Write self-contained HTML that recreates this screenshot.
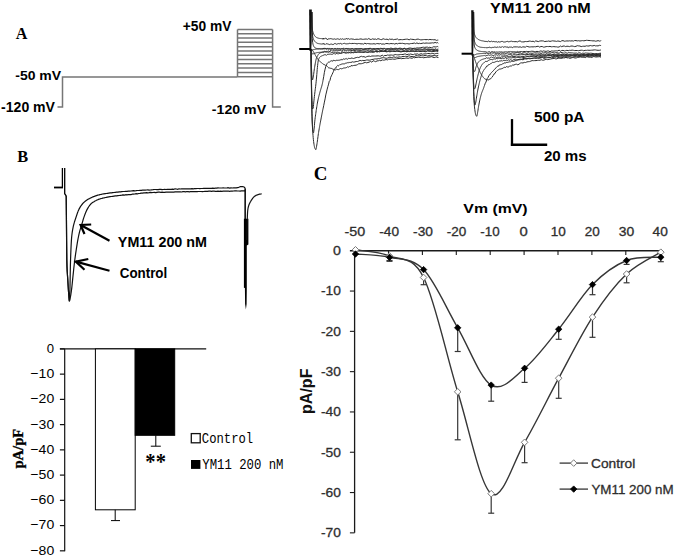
<!DOCTYPE html>
<html><head><meta charset="utf-8"><title>Figure</title><style>
html,body{margin:0;padding:0;background:#fff;width:675px;height:556px;overflow:hidden;}
svg{display:block;}
</style></head><body>
<svg width="675" height="556" viewBox="0 0 675 556">
<rect width="675" height="556" fill="#fff"/>
<text x="15.74" y="38.90" font-family='"Liberation Serif", serif' font-size="17.25" font-weight="bold" fill="#000" textLength="11.68" lengthAdjust="spacingAndGlyphs">A</text>
<polyline points="57.50,107.00 62.50,107.00 62.50,77.00 237.50,77.00" fill="none" stroke="#767676" stroke-width="1.5" />
<line x1="237.50" y1="29.50" x2="272.60" y2="29.50" stroke="#767676" stroke-width="1.5" />
<line x1="237.50" y1="33.79" x2="272.60" y2="33.79" stroke="#767676" stroke-width="1.5" />
<line x1="237.50" y1="38.08" x2="272.60" y2="38.08" stroke="#767676" stroke-width="1.5" />
<line x1="237.50" y1="42.37" x2="272.60" y2="42.37" stroke="#767676" stroke-width="1.5" />
<line x1="237.50" y1="46.66" x2="272.60" y2="46.66" stroke="#767676" stroke-width="1.5" />
<line x1="237.50" y1="50.95" x2="272.60" y2="50.95" stroke="#767676" stroke-width="1.5" />
<line x1="237.50" y1="55.25" x2="272.60" y2="55.25" stroke="#767676" stroke-width="1.5" />
<line x1="237.50" y1="59.54" x2="272.60" y2="59.54" stroke="#767676" stroke-width="1.5" />
<line x1="237.50" y1="63.83" x2="272.60" y2="63.83" stroke="#767676" stroke-width="1.5" />
<line x1="237.50" y1="68.12" x2="272.60" y2="68.12" stroke="#767676" stroke-width="1.5" />
<line x1="237.50" y1="72.41" x2="272.60" y2="72.41" stroke="#767676" stroke-width="1.5" />
<line x1="237.50" y1="76.70" x2="272.60" y2="76.70" stroke="#767676" stroke-width="1.5" />
<line x1="237.50" y1="29.50" x2="237.50" y2="77.00" stroke="#767676" stroke-width="1.5" />
<polyline points="272.60,29.50 272.60,107.00 280.80,107.00" fill="none" stroke="#767676" stroke-width="1.5" />
<text x="15.25" y="79.60" font-family='"Liberation Sans", sans-serif' font-size="13.47" font-weight="bold" fill="#000" textLength="45.84" lengthAdjust="spacingAndGlyphs">-50 mV</text>
<text x="1.05" y="111.50" font-family='"Liberation Sans", sans-serif' font-size="13.90" font-weight="bold" fill="#000" textLength="53.95" lengthAdjust="spacingAndGlyphs">-120 mV</text>
<text x="182.72" y="31.20" font-family='"Liberation Sans", sans-serif' font-size="13.75" font-weight="bold" fill="#000" textLength="48.67" lengthAdjust="spacingAndGlyphs">+50 mV</text>
<text x="211.85" y="113.70" font-family='"Liberation Sans", sans-serif' font-size="13.61" font-weight="bold" fill="#000" textLength="54.25" lengthAdjust="spacingAndGlyphs">-120 mV</text>
<text x="344.28" y="12.70" font-family='"Liberation Sans", sans-serif' font-size="14.97" font-weight="bold" fill="#000" textLength="53.79" lengthAdjust="spacingAndGlyphs">Control</text>
<text x="490.13" y="12.60" font-family='"Liberation Sans", sans-serif' font-size="14.97" font-weight="bold" fill="#000" textLength="100.65" lengthAdjust="spacingAndGlyphs">YM11 200 nM</text>
<line x1="512.00" y1="119.10" x2="512.00" y2="145.90" stroke="#000" stroke-width="2.3" />
<line x1="510.90" y1="144.80" x2="547.20" y2="144.80" stroke="#000" stroke-width="2.4" />
<text x="533.93" y="121.90" font-family='"Liberation Sans", sans-serif' font-size="15.19" font-weight="bold" fill="#000" textLength="50.48" lengthAdjust="spacingAndGlyphs">500 pA</text>
<text x="543.88" y="160.80" font-family='"Liberation Sans", sans-serif' font-size="15.47" font-weight="bold" fill="#000" textLength="42.74" lengthAdjust="spacingAndGlyphs">20 ms</text>
<path d="M311.9,12.0 312.1,26.0 312.3,29.0 312.5,30.3 312.7,31.1 312.9,31.9 313.1,32.5 313.3,33.1 313.5,33.6 313.7,34.1 313.9,34.5 314.1,34.9 314.3,35.2 314.5,35.6 314.7,35.8 314.9,36.1 315.1,36.3 315.3,36.5 315.5,36.7 315.7,36.9 315.9,37.0 316.1,37.2 316.3,37.3 316.5,37.4 316.7,37.6 316.9,37.7 317.1,37.7 317.3,37.8 317.5,37.9 317.7,38.0 317.9,38.0 318.1,38.1 318.3,38.2 318.5,38.2 318.7,38.3 318.9,38.3 319.1,38.4 319.3,38.4 319.5,38.4 319.7,38.5 319.9,38.5 320.1,38.5 320.3,38.5 320.5,38.5 320.7,38.6 320.9,38.6 321.1,38.6 321.3,38.6 321.5,38.6 321.7,38.6 321.9,38.6 322.1,38.6 322.3,38.7 322.5,38.7 322.7,38.7 322.9,38.7 323.1,39.3 323.3,38.0 323.5,38.8 323.7,38.6 323.9,38.6 324.6,38.7 325.3,38.2 326.0,38.7 326.7,38.6 327.4,39.8 328.1,38.9 328.8,38.8 329.5,38.8 330.2,38.7 330.9,38.6 331.6,38.8 332.3,39.1 333.0,38.9 333.7,39.2 334.4,38.9 335.1,39.0 335.8,39.4 336.5,39.1 337.2,38.8 337.9,38.9 338.6,39.1 339.3,39.5 340.0,38.9 340.7,38.9 341.4,39.3 342.1,38.8 342.8,38.9 343.5,39.3 344.2,39.2 344.9,39.1 345.6,39.2 346.3,38.3 347.0,39.3 347.7,38.8 348.4,38.6 349.1,39.1 349.8,39.3 350.5,39.0 351.2,38.8 351.9,39.1 353.2,39.1 354.5,39.5 355.8,39.3 357.1,39.2 358.4,39.4 359.7,39.1 361.0,38.9 362.3,39.3 363.6,39.3 364.9,39.1 366.2,39.0 367.5,39.3 368.8,38.5 370.1,39.4 371.4,39.4 372.7,38.8 374.0,39.3 375.3,39.0 376.6,39.5 377.9,38.7 379.2,39.0 380.5,39.5 381.8,39.6 383.1,38.7 384.4,39.2 385.7,39.4 387.0,39.1 388.3,39.8 389.6,39.0 390.9,39.4 392.2,39.1 393.5,39.7 394.8,39.4 396.1,39.3 397.4,38.9 398.7,39.9 400.0,39.6 401.3,39.6 402.6,39.7 403.9,39.5 405.2,39.3 406.5,39.2 407.8,39.2 409.1,39.9 410.4,39.1 411.7,39.3 413.0,39.4 414.3,39.6 415.6,39.7 416.9,39.2 418.2,39.1 419.5,39.5 420.8,39.9 422.1,39.8 423.4,39.6 424.7,39.5 426.0,39.7 427.3,39.5 428.6,39.8 429.9,39.4 431.2,39.7 432.5,39.6 433.8,39.8 435.1,39.7 436.4,40.4 437.7,40.1 438.3,40.1" fill="none" stroke="#2a2a2a" stroke-width="1.0" stroke-linejoin="round"/>
<path d="M311.9,12.0 312.1,27.0 312.3,32.5 312.5,35.0 312.7,36.4 312.9,37.4 313.1,38.1 313.3,38.7 313.5,39.2 313.7,39.7 313.9,40.0 314.1,40.4 314.3,40.7 314.5,40.9 314.7,41.2 314.9,41.5 315.1,41.7 315.3,41.9 315.5,42.1 315.7,42.2 315.9,42.4 316.1,42.5 316.3,42.7 316.5,42.8 316.7,42.9 316.9,43.1 317.1,43.2 317.3,43.3 317.5,43.3 317.7,43.4 317.9,43.5 318.1,43.5 318.3,43.6 318.5,43.6 318.7,43.6 318.9,43.7 319.1,43.7 319.3,43.7 319.5,43.8 319.7,43.8 319.9,43.8 320.1,43.9 320.3,43.9 320.5,43.9 320.7,43.9 320.9,43.9 321.1,44.0 321.3,44.0 321.5,44.0 321.7,44.0 321.9,44.0 322.1,44.0 322.3,44.0 322.5,44.0 322.7,44.0 322.9,44.0 323.1,43.5 323.3,43.9 323.5,43.9 323.7,44.2 323.9,43.4 324.6,44.4 325.3,44.4 326.0,43.7 326.7,43.8 327.4,43.9 328.1,44.1 328.8,44.3 329.5,44.7 330.2,44.0 330.9,44.3 331.6,44.1 332.3,44.5 333.0,44.2 333.7,44.4 334.4,43.6 335.1,43.8 335.8,43.6 336.5,44.2 337.2,44.0 337.9,43.7 338.6,43.6 339.3,43.8 340.0,43.5 340.7,43.4 341.4,43.8 342.1,44.4 342.8,43.6 343.5,43.5 344.2,43.4 344.9,43.3 345.6,43.8 346.3,43.9 347.0,43.7 347.7,43.8 348.4,43.7 349.1,43.7 349.8,43.2 350.5,43.5 351.2,43.7 351.9,43.4 353.2,43.5 354.5,43.4 355.8,43.6 357.1,43.9 358.4,43.5 359.7,43.6 361.0,43.9 362.3,43.8 363.6,44.1 364.9,43.1 366.2,43.9 367.5,43.5 368.8,43.7 370.1,43.9 371.4,43.9 372.7,43.9 374.0,43.7 375.3,44.1 376.6,43.6 377.9,43.6 379.2,43.9 380.5,43.5 381.8,44.2 383.1,43.9 384.4,44.2 385.7,43.6 387.0,43.5 388.3,43.7 389.6,43.8 390.9,43.5 392.2,43.7 393.5,43.6 394.8,44.1 396.1,43.4 397.4,43.9 398.7,43.4 400.0,43.3 401.3,43.4 402.6,43.3 403.9,43.6 405.2,43.9 406.5,43.6 407.8,43.7 409.1,44.0 410.4,43.6 411.7,43.5 413.0,43.4 414.3,43.0 415.6,43.6 416.9,42.9 418.2,43.6 419.5,43.3 420.8,43.6 422.1,43.3 423.4,43.0 424.7,43.3 426.0,43.0 427.3,43.1 428.6,43.2 429.9,43.1 431.2,43.0 432.5,42.8 433.8,43.0 435.1,42.4 436.4,42.9 437.7,42.6 438.3,43.2" fill="none" stroke="#2a2a2a" stroke-width="1.0" stroke-linejoin="round"/>
<path d="M311.9,12.0 312.1,33.0 312.3,38.4 312.5,41.0 312.7,42.6 312.9,43.8 313.1,44.7 313.3,45.3 313.5,45.8 313.7,46.2 313.9,46.6 314.1,46.9 314.3,47.1 314.5,47.4 314.7,47.5 314.9,47.7 315.1,47.8 315.3,47.9 315.5,48.0 315.7,48.1 315.9,48.2 316.1,48.3 316.3,48.3 316.5,48.4 316.7,48.5 316.9,48.5 317.1,48.5 317.3,48.5 317.5,48.6 317.7,48.6 317.9,48.6 318.1,48.6 318.3,48.6 318.5,48.6 318.7,48.7 318.9,48.7 319.1,48.7 319.3,48.7 319.5,48.7 319.7,48.7 319.9,48.7 320.1,48.8 320.3,48.8 320.5,48.8 320.7,48.8 320.9,48.8 321.1,48.8 321.3,48.8 321.5,48.8 321.7,48.8 321.9,48.8 322.1,48.8 322.3,48.8 322.5,48.8 322.7,48.8 322.9,48.8 323.1,49.2 323.3,48.3 323.5,48.8 323.7,48.8 323.9,48.5 324.6,48.9 325.3,48.7 326.0,48.3 326.7,48.7 327.4,48.8 328.1,48.8 328.8,48.5 329.5,49.0 330.2,49.0 330.9,48.5 331.6,48.6 332.3,48.8 333.0,48.6 333.7,49.3 334.4,48.9 335.1,48.5 335.8,48.6 336.5,48.8 337.2,49.4 337.9,48.8 338.6,48.8 339.3,48.9 340.0,48.8 340.7,49.4 341.4,48.7 342.1,49.0 342.8,48.8 343.5,49.0 344.2,48.5 344.9,49.3 345.6,48.8 346.3,48.8 347.0,48.5 347.7,48.6 348.4,49.0 349.1,49.1 349.8,49.0 350.5,49.1 351.2,49.0 351.9,48.8 353.2,49.0 354.5,49.0 355.8,48.8 357.1,49.0 358.4,49.1 359.7,48.8 361.0,48.7 362.3,49.0 363.6,49.3 364.9,48.7 366.2,48.7 367.5,48.7 368.8,49.1 370.1,48.2 371.4,48.8 372.7,49.1 374.0,48.5 375.3,49.1 376.6,48.9 377.9,48.6 379.2,48.8 380.5,48.3 381.8,48.5 383.1,49.2 384.4,48.4 385.7,49.2 387.0,48.7 388.3,48.9 389.6,48.7 390.9,48.0 392.2,48.5 393.5,48.7 394.8,48.3 396.1,48.2 397.4,48.7 398.7,48.4 400.0,48.1 401.3,48.4 402.6,48.8 403.9,48.4 405.2,48.8 406.5,48.9 407.8,48.5 409.1,48.1 410.4,48.0 411.7,48.3 413.0,48.5 414.3,48.2 415.6,48.3 416.9,47.9 418.2,48.0 419.5,47.8 420.8,47.7 422.1,47.4 423.4,47.2 424.7,47.4 426.0,47.2 427.3,47.1 428.6,47.5 429.9,47.2 431.2,47.9 432.5,47.3 433.8,46.7 435.1,47.0 436.4,46.8 437.7,46.5 438.3,46.9" fill="none" stroke="#2a2a2a" stroke-width="1.0" stroke-linejoin="round"/>
<path d="M311.0,49.0 311.2,49.3 311.4,49.6 311.6,49.8 311.8,49.9 312.0,50.0 312.2,50.0 312.4,50.0 312.6,49.9 312.8,49.9 313.0,49.8 313.2,49.7 313.4,49.7 313.6,49.6 313.8,49.5 314.0,49.5 314.2,49.5 314.4,49.4 314.6,49.4 314.8,49.4 315.0,49.3 315.2,49.3 315.4,49.3 315.6,49.2 315.8,49.2 316.0,49.2 316.2,49.2 316.4,49.1 316.6,49.1 316.8,49.1 317.0,49.1 317.2,49.1 317.4,49.0 317.6,49.0 317.8,49.0 318.0,49.0 318.2,49.0 318.4,49.0 318.6,49.0 318.8,49.0 319.0,49.0 319.2,48.9 319.4,48.9 319.6,48.9 319.8,48.9 320.0,48.9 320.2,48.9 320.4,48.9 320.6,48.9 320.8,48.9 321.0,48.9 321.2,48.9 321.4,48.9 321.6,48.9 321.8,48.8 322.0,48.8 322.2,48.8 322.4,48.8 322.6,48.8 322.8,48.8 323.0,48.8 323.7,48.6 324.4,47.9 325.1,49.0 325.8,48.6 326.5,49.2 327.2,48.6 327.9,48.5 328.6,49.2 329.3,48.5 330.0,48.9 330.7,49.2 331.4,48.8 332.1,48.8 332.8,48.8 333.5,49.0 334.2,48.6 334.9,49.0 335.6,49.0 336.3,49.5 337.0,48.7 337.7,48.5 338.4,49.0 339.1,48.7 339.8,48.9 340.5,48.8 341.2,49.1 341.9,48.6 342.6,48.8 343.3,48.1 344.0,48.6 344.7,49.2 345.4,48.6 346.1,48.6 346.8,48.5 347.5,49.0 348.2,48.8 348.9,48.5 349.6,49.0 350.3,48.9 351.0,49.0 352.3,48.6 353.6,49.3 354.9,48.9 356.2,48.8 357.5,48.7 358.8,48.7 360.1,49.0 361.4,48.7 362.7,49.1 364.0,49.0 365.3,49.2 366.6,49.0 367.9,48.8 369.2,48.3 370.5,48.9 371.8,49.0 373.1,48.8 374.4,49.0 375.7,48.7 377.0,48.7 378.3,48.5 379.6,49.2 380.9,48.8 382.2,48.7 383.5,48.4 384.8,48.8 386.1,49.2 387.4,48.9 388.7,48.6 390.0,49.2 391.3,49.2 392.6,49.1 393.9,49.0 395.2,49.1 396.5,49.0 397.8,49.0 399.1,48.6 400.4,49.2 401.7,48.9 403.0,49.4 404.3,48.2 405.6,49.0 406.9,49.1 408.2,48.7 409.5,49.0 410.8,49.1 412.1,49.0 413.4,48.8 414.7,48.9 416.0,49.2 417.3,49.3 418.6,49.0 419.9,49.0 421.2,49.1 422.5,49.3 423.8,48.8 425.1,48.7 426.4,49.2 427.7,48.9 429.0,49.0 430.3,49.2 431.6,49.4 432.9,49.0 434.2,49.5 435.5,48.8 436.8,49.5 438.1,49.0 438.3,49.0" fill="none" stroke="#2a2a2a" stroke-width="1.0" stroke-linejoin="round"/>
<path d="M311.0,49.0 311.2,50.5 311.4,51.7 311.6,52.5 311.8,53.0 312.0,53.4 312.2,53.7 312.4,53.9 312.6,54.0 312.8,54.0 313.0,53.9 313.2,53.8 313.4,53.8 313.6,53.7 313.8,53.6 314.0,53.5 314.2,53.4 314.4,53.4 314.6,53.3 314.8,53.3 315.0,53.2 315.2,53.1 315.4,53.1 315.6,53.0 315.8,53.0 316.0,52.9 316.2,52.8 316.4,52.8 316.6,52.7 316.8,52.7 317.0,52.7 317.2,52.6 317.4,52.6 317.6,52.5 317.8,52.5 318.0,52.5 318.2,52.5 318.4,52.5 318.6,52.4 318.8,52.4 319.0,52.4 319.2,52.4 319.4,52.4 319.6,52.3 319.8,52.3 320.0,52.3 320.2,52.3 320.4,52.3 320.6,52.3 320.8,52.2 321.0,52.2 321.2,52.2 321.4,52.2 321.6,52.2 321.8,52.2 322.0,52.2 322.2,52.2 322.4,52.1 322.6,52.1 322.8,52.1 323.0,52.1 323.7,52.3 324.4,51.9 325.1,51.8 325.8,51.9 326.5,52.1 327.2,52.0 327.9,52.0 328.6,52.3 329.3,51.8 330.0,51.9 330.7,51.9 331.4,52.4 332.1,52.4 332.8,52.5 333.5,52.2 334.2,52.2 334.9,52.5 335.6,52.2 336.3,52.6 337.0,52.6 337.7,52.2 338.4,52.4 339.1,52.4 339.8,52.9 340.5,53.1 341.2,52.4 341.9,52.4 342.6,51.8 343.3,52.4 344.0,52.4 344.7,52.1 345.4,52.6 346.1,51.9 346.8,52.3 347.5,52.4 348.2,52.0 348.9,52.5 349.6,52.6 350.3,51.9 351.0,51.9 352.3,52.4 353.6,52.2 354.9,51.8 356.2,52.1 357.5,52.1 358.8,52.0 360.1,52.3 361.4,52.1 362.7,52.5 364.0,52.3 365.3,52.0 366.6,52.1 367.9,52.1 369.2,51.9 370.5,51.3 371.8,51.8 373.1,51.6 374.4,51.9 375.7,51.5 377.0,51.6 378.3,51.5 379.6,51.9 380.9,51.4 382.2,51.3 383.5,51.5 384.8,51.3 386.1,51.4 387.4,51.4 388.7,51.5 390.0,51.9 391.3,51.3 392.6,51.4 393.9,51.3 395.2,51.6 396.5,51.1 397.8,51.2 399.1,51.4 400.4,51.6 401.7,51.4 403.0,51.3 404.3,51.1 405.6,51.5 406.9,51.8 408.2,51.4 409.5,51.4 410.8,51.4 412.1,51.0 413.4,51.2 414.7,51.2 416.0,51.3 417.3,51.2 418.6,50.8 419.9,51.4 421.2,51.6 422.5,51.0 423.8,51.1 425.1,51.0 426.4,51.1 427.7,50.5 429.0,51.3 430.3,50.7 431.6,51.1 432.9,50.7 434.2,50.5 435.5,50.6 436.8,50.8 438.1,50.3 438.3,50.4" fill="none" stroke="#2a2a2a" stroke-width="1.0" stroke-linejoin="round"/>
<path d="M311.0,49.0 311.2,58.0 311.4,65.0 311.6,70.4 311.8,74.6 312.0,77.2 312.2,79.2 312.4,80.0 312.6,79.7 312.8,79.0 313.0,78.0 313.2,77.0 313.4,75.9 313.6,74.6 313.8,73.1 314.0,71.5 314.2,70.0 314.4,68.6 314.6,67.4 314.8,66.2 315.0,65.0 315.2,63.8 315.4,62.7 315.6,61.6 315.8,60.6 316.0,59.7 316.2,58.9 316.4,58.3 316.6,57.8 316.8,57.3 317.0,56.9 317.2,56.5 317.4,56.1 317.6,55.7 317.8,55.4 318.0,55.0 318.2,54.7 318.4,54.4 318.6,54.2 318.8,53.9 319.0,53.7 319.2,53.5 319.4,53.4 319.6,53.2 319.8,53.1 320.0,53.0 320.2,52.9 320.4,52.8 320.6,52.8 320.8,52.7 321.0,52.6 321.2,52.6 321.4,52.5 321.6,52.4 321.8,52.4 322.0,52.3 322.2,52.2 322.4,52.2 322.6,52.1 322.8,52.1 323.0,52.0 323.7,51.7 324.4,51.2 325.1,51.9 325.8,51.6 326.5,51.4 327.2,51.6 327.9,50.9 328.6,51.1 329.3,51.5 330.0,51.3 330.7,50.3 331.4,50.0 332.1,50.6 332.8,51.1 333.5,50.6 334.2,50.7 334.9,50.8 335.6,50.4 336.3,50.7 337.0,50.8 337.7,50.7 338.4,50.6 339.1,50.3 339.8,50.6 340.5,50.4 341.2,50.8 341.9,51.2 342.6,50.2 343.3,49.8 344.0,50.3 344.7,50.5 345.4,50.7 346.1,50.7 346.8,50.2 347.5,50.2 348.2,50.7 348.9,50.1 349.6,50.7 350.3,50.3 351.0,50.6 352.3,50.5 353.6,50.5 354.9,50.5 356.2,50.0 357.5,50.3 358.8,50.3 360.1,50.3 361.4,50.6 362.7,50.1 364.0,50.0 365.3,50.0 366.6,50.1 367.9,50.4 369.2,49.9 370.5,50.5 371.8,50.2 373.1,50.1 374.4,49.7 375.7,50.2 377.0,50.3 378.3,49.6 379.6,50.4 380.9,50.5 382.2,50.2 383.5,50.2 384.8,50.7 386.1,50.4 387.4,49.8 388.7,50.0 390.0,50.0 391.3,50.0 392.6,49.4 393.9,50.2 395.2,49.8 396.5,50.1 397.8,50.0 399.1,50.2 400.4,49.9 401.7,49.8 403.0,50.1 404.3,50.4 405.6,49.9 406.9,50.4 408.2,50.0 409.5,49.8 410.8,50.4 412.1,49.7 413.4,50.2 414.7,49.8 416.0,50.1 417.3,49.6 418.6,49.7 419.9,50.2 421.2,50.0 422.5,49.9 423.8,49.8 425.1,50.0 426.4,49.5 427.7,49.6 429.0,49.9 430.3,49.7 431.6,49.7 432.9,49.9 434.2,49.9 435.5,49.8 436.8,50.4 438.1,50.2 438.3,50.2" fill="none" stroke="#2a2a2a" stroke-width="1.0" stroke-linejoin="round"/>
<path d="M311.0,49.0 311.2,49.1 311.4,49.3 311.6,49.4 311.8,49.6 312.0,49.8 312.2,50.0 312.4,50.2 312.6,50.5 312.8,50.8 313.0,51.1 313.2,51.3 313.4,51.7 313.6,52.0 313.8,52.4 314.0,52.7 314.2,53.1 314.4,53.5 314.6,53.9 314.8,54.3 315.0,54.6 315.2,55.0 315.4,55.3 315.6,55.7 315.8,56.0 316.0,56.3 316.2,56.6 316.4,57.0 316.6,57.3 316.8,57.6 317.0,57.9 317.2,58.2 317.4,58.5 317.6,58.8 317.8,59.1 318.0,59.3 318.2,59.6 318.4,59.8 318.6,60.0 318.8,60.3 319.0,60.5 319.2,60.7 319.4,60.9 319.6,61.1 319.8,61.3 320.0,61.5 320.2,61.7 320.4,61.9 320.6,62.0 320.8,62.2 321.0,62.4 321.2,62.6 321.4,62.7 321.6,62.9 321.8,63.0 322.0,63.2 322.2,63.3 322.4,63.5 322.6,63.6 322.8,63.8 323.0,63.9 323.7,64.4 324.4,64.7 325.1,64.8 325.8,65.6 326.5,65.5 327.2,66.4 327.9,67.2 328.6,67.8 329.3,68.0 330.0,67.8 330.7,68.4 331.4,68.3 332.1,69.0 332.8,69.0 333.5,69.4 334.2,69.9 334.9,69.5 335.6,69.9 336.3,69.3 337.0,69.2 337.7,69.6 338.4,69.7 339.1,69.0 339.8,69.0 340.5,68.5 341.2,68.7 341.9,68.9 342.6,68.5 343.3,68.2 344.0,67.7 344.7,68.0 345.4,67.9 346.1,67.7 346.8,67.4 347.5,66.8 348.2,67.4 348.9,66.8 349.6,66.5 350.3,66.6 351.0,65.6 352.3,65.8 353.6,65.5 354.9,65.3 356.2,65.2 357.5,64.6 358.8,63.7 360.1,63.8 361.4,63.7 362.7,63.4 364.0,62.8 365.3,62.4 366.6,62.8 367.9,62.5 369.2,62.1 370.5,61.4 371.8,62.2 373.1,60.7 374.4,61.2 375.7,61.7 377.0,60.9 378.3,60.8 379.6,60.3 380.9,60.8 382.2,59.9 383.5,60.2 384.8,60.0 386.1,59.5 387.4,59.9 388.7,59.1 390.0,59.2 391.3,59.3 392.6,59.0 393.9,59.2 395.2,59.2 396.5,58.8 397.8,58.6 399.1,58.5 400.4,58.5 401.7,58.7 403.0,58.4 404.3,58.5 405.6,58.2 406.9,58.0 408.2,58.4 409.5,57.8 410.8,58.0 412.1,58.3 413.4,57.5 414.7,57.8 416.0,57.3 417.3,57.5 418.6,57.2 419.9,57.4 421.2,57.3 422.5,57.5 423.8,57.8 425.1,57.4 426.4,57.5 427.7,57.2 429.0,57.2 430.3,57.0 431.6,56.7 432.9,57.2 434.2,57.6 435.5,57.2 436.8,57.0 438.1,57.6 438.3,57.0" fill="none" stroke="#2a2a2a" stroke-width="1.0" stroke-linejoin="round"/>
<path d="M311.0,49.0 311.2,63.7 311.4,75.7 311.6,85.8 311.8,93.9 312.0,100.7 312.2,104.8 312.4,107.7 312.6,109.0 312.8,108.9 313.0,108.5 313.2,108.0 313.4,106.6 313.6,104.3 313.8,102.0 314.0,100.1 314.2,98.3 314.4,96.5 314.6,94.7 314.8,93.0 315.0,91.4 315.2,89.8 315.4,88.3 315.6,86.7 315.8,85.0 316.0,83.2 316.2,81.2 316.4,79.1 316.6,77.0 316.8,74.6 317.0,72.1 317.2,69.6 317.4,67.5 317.6,65.6 317.8,63.8 318.0,62.2 318.2,61.0 318.4,60.1 318.6,59.4 318.8,58.9 319.0,58.4 319.2,57.9 319.4,57.6 319.6,57.4 319.8,57.2 320.0,57.0 320.2,56.8 320.4,56.7 320.6,56.5 320.8,56.4 321.0,56.3 321.2,56.2 321.4,56.1 321.6,56.0 321.8,55.9 322.0,55.8 322.2,55.7 322.4,55.7 322.6,55.6 322.8,55.5 323.0,55.5 323.7,55.1 324.4,54.8 325.1,54.7 325.8,54.8 326.5,55.3 327.2,54.6 327.9,54.2 328.6,54.3 329.3,54.3 330.0,53.8 330.7,54.2 331.4,54.3 332.1,54.2 332.8,54.2 333.5,53.6 334.2,53.4 334.9,54.2 335.6,54.1 336.3,53.3 337.0,53.8 337.7,53.7 338.4,53.8 339.1,53.6 339.8,53.4 340.5,53.5 341.2,53.5 341.9,53.3 342.6,52.8 343.3,52.4 344.0,53.0 344.7,52.7 345.4,53.1 346.1,53.2 346.8,53.0 347.5,52.8 348.2,52.8 348.9,53.1 349.6,52.5 350.3,52.9 351.0,52.8 352.3,52.6 353.6,52.8 354.9,52.1 356.2,52.5 357.5,52.0 358.8,52.0 360.1,51.8 361.4,52.2 362.7,51.8 364.0,52.0 365.3,51.7 366.6,52.2 367.9,52.4 369.2,51.9 370.5,52.3 371.8,52.0 373.1,52.4 374.4,51.8 375.7,51.3 377.0,52.1 378.3,51.6 379.6,51.3 380.9,51.4 382.2,51.1 383.5,51.5 384.8,51.2 386.1,51.9 387.4,51.7 388.7,51.0 390.0,51.0 391.3,51.3 392.6,50.9 393.9,51.4 395.2,51.4 396.5,51.2 397.8,51.2 399.1,51.5 400.4,51.8 401.7,51.8 403.0,51.4 404.3,51.6 405.6,51.2 406.9,51.5 408.2,51.1 409.5,51.6 410.8,51.1 412.1,51.1 413.4,51.4 414.7,51.6 416.0,51.0 417.3,51.2 418.6,51.4 419.9,51.5 421.2,51.2 422.5,51.4 423.8,51.3 425.1,51.8 426.4,51.6 427.7,51.0 429.0,50.8 430.3,51.4 431.6,51.7 432.9,51.4 434.2,51.6 435.5,51.3 436.8,51.0 438.1,51.6 438.3,51.4" fill="none" stroke="#2a2a2a" stroke-width="1.0" stroke-linejoin="round"/>
<path d="M311.0,49.0 311.2,67.2 311.4,82.1 311.6,94.7 311.8,104.8 312.0,113.6 312.2,120.0 312.4,124.4 312.6,127.8 312.8,130.0 313.0,131.5 313.2,132.6 313.4,133.0 313.6,132.5 313.8,131.3 314.0,129.8 314.2,128.1 314.4,125.6 314.6,123.1 314.8,121.1 315.0,119.3 315.2,117.7 315.4,116.2 315.6,114.8 315.8,113.4 316.0,112.0 316.2,110.6 316.4,109.3 316.6,108.0 316.8,106.7 317.0,105.5 317.2,104.3 317.4,103.1 317.6,102.0 317.8,101.0 318.0,100.0 318.2,99.1 318.4,98.2 318.6,97.3 318.8,96.5 319.0,95.7 319.2,95.0 319.4,94.2 319.6,93.5 319.8,92.7 320.0,92.0 320.2,91.3 320.4,90.6 320.6,89.9 320.8,89.3 321.0,88.6 321.2,88.0 321.4,87.3 321.6,86.7 321.8,86.0 322.0,85.2 322.2,84.4 322.4,83.6 322.6,82.6 322.8,81.6 323.0,80.4 323.7,76.7 324.4,72.3 325.1,69.1 325.8,66.4 326.5,64.9 327.2,63.4 327.9,62.6 328.6,62.1 329.3,62.2 330.0,61.5 330.7,61.1 331.4,60.8 332.1,60.7 332.8,61.3 333.5,60.2 334.2,60.4 334.9,60.7 335.6,60.7 336.3,60.3 337.0,60.4 337.7,60.3 338.4,60.3 339.1,59.9 339.8,60.3 340.5,59.8 341.2,60.1 341.9,59.2 342.6,59.7 343.3,59.0 344.0,58.8 344.7,59.3 345.4,58.8 346.1,59.1 346.8,58.5 347.5,59.2 348.2,58.6 348.9,58.2 349.6,58.5 350.3,58.6 351.0,58.0 352.3,58.2 353.6,58.5 354.9,58.0 356.2,57.6 357.5,57.3 358.8,57.5 360.1,56.8 361.4,56.3 362.7,56.8 364.0,56.6 365.3,57.3 366.6,56.7 367.9,56.3 369.2,56.1 370.5,56.5 371.8,56.0 373.1,56.0 374.4,56.0 375.7,56.0 377.0,55.9 378.3,55.8 379.6,56.1 380.9,56.1 382.2,55.1 383.5,56.2 384.8,55.4 386.1,55.6 387.4,55.0 388.7,55.2 390.0,55.1 391.3,55.0 392.6,55.2 393.9,55.1 395.2,54.5 396.5,54.7 397.8,54.9 399.1,54.8 400.4,54.5 401.7,54.5 403.0,54.5 404.3,54.1 405.6,54.0 406.9,54.8 408.2,54.2 409.5,54.3 410.8,54.0 412.1,54.5 413.4,54.6 414.7,54.0 416.0,54.2 417.3,53.8 418.6,54.4 419.9,54.2 421.2,53.6 422.5,54.2 423.8,53.9 425.1,53.9 426.4,53.8 427.7,53.5 429.0,53.5 430.3,53.8 431.6,53.6 432.9,53.3 434.2,54.1 435.5,53.5 436.8,53.4 438.1,53.3 438.3,53.7" fill="none" stroke="#2a2a2a" stroke-width="1.0" stroke-linejoin="round"/>
<path d="M311.0,49.0 311.2,71.1 311.4,87.5 311.6,100.1 311.8,109.2 312.0,116.5 312.2,122.0 312.4,126.2 312.6,129.7 312.8,132.7 313.0,135.3 313.2,137.6 313.4,139.7 313.6,141.5 313.8,143.0 314.0,144.3 314.2,145.5 314.4,146.5 314.6,147.4 314.8,148.0 315.0,148.5 315.2,149.0 315.4,149.3 315.6,149.6 315.8,149.7 316.0,149.4 316.2,148.6 316.4,147.5 316.6,146.2 316.8,145.0 317.0,143.8 317.2,142.5 317.4,141.0 317.6,139.5 317.8,138.0 318.0,136.5 318.2,135.0 318.4,133.6 318.6,132.4 318.8,131.1 319.0,130.0 319.2,128.8 319.4,127.6 319.6,126.5 319.8,125.4 320.0,124.3 320.2,123.2 320.4,122.2 320.6,121.1 320.8,120.1 321.0,119.0 321.2,117.9 321.4,116.9 321.6,115.9 321.8,114.8 322.0,113.8 322.2,112.8 322.4,111.8 322.6,110.8 322.8,109.8 323.0,108.9 323.7,105.7 324.4,102.1 325.1,98.9 325.8,94.9 326.5,92.0 327.2,89.1 327.9,86.5 328.6,84.1 329.3,81.1 330.0,80.4 330.7,77.3 331.4,75.9 332.1,74.4 332.8,72.9 333.5,71.3 334.2,69.2 334.9,68.7 335.6,68.2 336.3,66.9 337.0,66.3 337.7,65.4 338.4,65.9 339.1,65.4 339.8,64.6 340.5,64.6 341.2,64.4 341.9,63.9 342.6,63.9 343.3,63.9 344.0,63.8 344.7,63.8 345.4,63.3 346.1,63.0 346.8,63.1 347.5,62.7 348.2,62.4 348.9,63.0 349.6,62.4 350.3,62.4 351.0,62.5 352.3,61.8 353.6,62.1 354.9,61.9 356.2,61.5 357.5,61.5 358.8,61.0 360.1,60.4 361.4,60.8 362.7,60.4 364.0,60.7 365.3,60.4 366.6,60.0 367.9,60.0 369.2,60.2 370.5,59.9 371.8,59.5 373.1,59.4 374.4,59.0 375.7,58.9 377.0,59.0 378.3,58.6 379.6,58.6 380.9,58.1 382.2,57.8 383.5,57.7 384.8,57.9 386.1,58.3 387.4,58.1 388.7,57.4 390.0,57.1 391.3,57.6 392.6,57.4 393.9,56.8 395.2,57.4 396.5,57.1 397.8,57.3 399.1,56.9 400.4,57.0 401.7,56.8 403.0,56.4 404.3,56.5 405.6,56.3 406.9,56.7 408.2,56.1 409.5,55.9 410.8,56.5 412.1,56.5 413.4,56.6 414.7,56.4 416.0,55.6 417.3,55.8 418.6,55.8 419.9,55.9 421.2,55.2 422.5,55.8 423.8,55.8 425.1,55.4 426.4,55.7 427.7,56.0 429.0,55.6 430.3,55.9 431.6,55.8 432.9,55.7 434.2,55.6 435.5,55.4 436.8,55.9 438.1,55.4 438.3,55.3" fill="none" stroke="#2a2a2a" stroke-width="1.0" stroke-linejoin="round"/>
<line x1="299.2" y1="49.0" x2="310.0" y2="49.0" stroke="#000" stroke-width="2"/>
<path d="M309.1,9.6 L311.8,9.6 L311.6,43.0 L311.2,51.0 L309.5,51.0 Z" fill="#111" stroke="none"/>
<path d="M473.6,12.0 473.8,29.1 474.0,31.9 474.2,33.1 474.4,33.9 474.6,34.5 474.8,35.1 475.0,35.6 475.2,36.1 475.4,36.5 475.6,36.8 475.8,37.1 476.0,37.4 476.2,37.7 476.4,37.9 476.6,38.1 476.8,38.3 477.0,38.5 477.2,38.7 477.4,38.8 477.6,39.0 477.8,39.1 478.0,39.3 478.2,39.4 478.4,39.5 478.6,39.6 478.8,39.7 479.0,39.8 479.2,39.9 479.4,40.0 479.6,40.1 479.8,40.1 480.0,40.2 480.2,40.3 480.4,40.4 480.6,40.4 480.8,40.5 481.0,40.6 481.2,40.6 481.4,40.7 481.6,40.7 481.8,40.8 482.0,40.8 482.2,40.8 482.4,40.9 482.6,40.9 482.8,40.9 483.0,41.0 483.2,41.0 483.4,41.0 483.6,41.1 483.8,41.1 484.0,41.1 484.2,41.1 484.4,41.2 484.6,41.2 484.8,41.4 485.0,41.0 485.2,41.4 485.4,41.6 485.6,41.3 486.3,41.4 487.0,41.6 487.7,41.6 488.4,41.0 489.1,41.1 489.8,41.9 490.5,41.7 491.2,41.0 491.9,41.3 492.6,41.7 493.3,41.4 494.0,41.8 494.7,41.7 495.4,41.8 496.1,41.4 496.8,41.9 497.5,42.3 498.2,41.5 498.9,42.1 499.6,42.0 500.3,41.9 501.0,41.7 501.7,41.4 502.4,41.4 503.1,41.9 503.8,42.0 504.5,42.0 505.2,41.9 505.9,41.9 506.6,41.5 507.3,41.3 508.0,41.7 508.7,41.8 509.4,41.7 510.1,41.2 510.8,41.5 511.5,41.2 512.2,41.7 512.9,41.3 513.6,41.6 514.9,41.7 516.2,41.6 517.5,41.9 518.8,41.2 520.1,40.9 521.4,41.8 522.7,41.9 524.0,41.9 525.3,41.5 526.6,41.6 527.9,41.5 529.2,41.1 530.5,41.2 531.8,41.5 533.1,41.2 534.4,41.9 535.7,40.9 537.0,41.2 538.3,41.6 539.6,41.1 540.9,40.9 542.2,40.9 543.5,41.0 544.8,41.6 546.1,41.3 547.4,41.3 548.7,41.0 550.0,41.4 551.3,41.1 552.6,40.8 553.9,41.0 555.2,41.1 556.5,41.4 557.8,41.0 559.1,41.2 560.4,41.6 561.7,40.8 563.0,40.6 564.3,41.2 565.6,41.1 566.9,40.9 568.2,41.0 569.5,40.8 570.8,41.0 572.1,40.8 573.4,41.1 574.7,40.5 576.0,40.6 577.3,40.9 578.6,40.7 579.9,41.0 581.2,40.8 582.5,40.6 583.8,40.8 585.1,40.6 586.4,40.3 587.7,40.4 589.0,40.5 590.3,40.6 591.6,40.7 592.9,40.9 594.2,40.8 595.5,41.2 596.8,41.0 598.1,40.6 599.4,41.1 600.7,40.9 601.0,40.5" fill="none" stroke="#2a2a2a" stroke-width="1.0" stroke-linejoin="round"/>
<path d="M473.6,12.0 473.8,33.0 474.0,37.9 474.2,39.8 474.4,40.9 474.6,41.7 474.8,42.3 475.0,42.8 475.2,43.3 475.4,43.7 475.6,44.0 475.8,44.3 476.0,44.6 476.2,44.8 476.4,45.1 476.6,45.3 476.8,45.5 477.0,45.6 477.2,45.8 477.4,45.9 477.6,46.1 477.8,46.2 478.0,46.3 478.2,46.4 478.4,46.5 478.6,46.6 478.8,46.7 479.0,46.8 479.2,46.8 479.4,46.9 479.6,47.0 479.8,47.0 480.0,47.1 480.2,47.2 480.4,47.2 480.6,47.2 480.8,47.3 481.0,47.3 481.2,47.3 481.4,47.3 481.6,47.4 481.8,47.4 482.0,47.4 482.2,47.4 482.4,47.4 482.6,47.5 482.8,47.5 483.0,47.5 483.2,47.5 483.4,47.5 483.6,47.5 483.8,47.5 484.0,47.5 484.2,47.6 484.4,47.6 484.6,47.6 484.8,47.7 485.0,47.9 485.2,47.7 485.4,47.9 485.6,47.7 486.3,47.8 487.0,47.5 487.7,47.7 488.4,47.5 489.1,47.7 489.8,47.0 490.5,47.6 491.2,47.8 491.9,47.6 492.6,47.4 493.3,47.5 494.0,47.1 494.7,47.1 495.4,47.2 496.1,47.2 496.8,47.5 497.5,47.0 498.2,47.5 498.9,46.8 499.6,47.0 500.3,47.2 501.0,47.5 501.7,47.0 502.4,46.6 503.1,47.3 503.8,47.1 504.5,46.8 505.2,46.8 505.9,46.9 506.6,47.1 507.3,47.3 508.0,46.7 508.7,47.7 509.4,47.1 510.1,47.0 510.8,47.2 511.5,47.1 512.2,47.7 512.9,47.3 513.6,46.9 514.9,46.9 516.2,46.9 517.5,46.9 518.8,47.2 520.1,46.8 521.4,47.4 522.7,46.9 524.0,46.9 525.3,47.2 526.6,46.3 527.9,46.6 529.2,47.0 530.5,46.9 531.8,46.8 533.1,46.9 534.4,46.7 535.7,46.8 537.0,46.4 538.3,46.3 539.6,47.1 540.9,46.5 542.2,46.5 543.5,47.1 544.8,47.0 546.1,46.6 547.4,46.5 548.7,46.6 550.0,46.4 551.3,46.8 552.6,46.7 553.9,46.6 555.2,46.8 556.5,46.8 557.8,47.1 559.1,47.0 560.4,46.0 561.7,46.7 563.0,46.1 564.3,46.0 565.6,46.6 566.9,46.2 568.2,46.3 569.5,46.6 570.8,46.1 572.1,46.0 573.4,46.3 574.7,46.6 576.0,46.3 577.3,45.7 578.6,45.9 579.9,46.0 581.2,46.6 582.5,46.3 583.8,46.2 585.1,46.3 586.4,45.8 587.7,46.0 589.0,46.0 590.3,45.5 591.6,45.8 592.9,45.9 594.2,45.4 595.5,45.9 596.8,45.8 598.1,45.9 599.4,45.3 600.7,45.5 601.0,45.9" fill="none" stroke="#2a2a2a" stroke-width="1.0" stroke-linejoin="round"/>
<path d="M473.6,12.0 473.8,38.0 474.0,42.9 474.2,45.0 474.4,46.1 474.6,46.9 474.8,47.5 475.0,47.9 475.2,48.3 475.4,48.6 475.6,48.9 475.8,49.2 476.0,49.4 476.2,49.6 476.4,49.8 476.6,49.9 476.8,50.1 477.0,50.2 477.2,50.3 477.4,50.4 477.6,50.5 477.8,50.6 478.0,50.7 478.2,50.8 478.4,50.9 478.6,50.9 478.8,51.0 479.0,51.1 479.2,51.1 479.4,51.2 479.6,51.2 479.8,51.3 480.0,51.3 480.2,51.3 480.4,51.4 480.6,51.4 480.8,51.4 481.0,51.5 481.2,51.5 481.4,51.5 481.6,51.5 481.8,51.6 482.0,51.6 482.2,51.6 482.4,51.6 482.6,51.6 482.8,51.7 483.0,51.7 483.2,51.7 483.4,51.7 483.6,51.7 483.8,51.7 484.0,51.8 484.2,51.8 484.4,51.8 484.6,51.8 484.8,52.0 485.0,51.6 485.2,51.9 485.4,52.2 485.6,51.8 486.3,52.0 487.0,52.6 487.7,51.9 488.4,51.9 489.1,51.7 489.8,51.8 490.5,52.4 491.2,51.9 491.9,51.7 492.6,51.7 493.3,52.0 494.0,52.2 494.7,51.8 495.4,52.2 496.1,51.9 496.8,52.1 497.5,52.1 498.2,52.2 498.9,51.9 499.6,51.9 500.3,52.1 501.0,51.6 501.7,52.0 502.4,52.1 503.1,52.3 503.8,52.0 504.5,51.9 505.2,52.0 505.9,51.7 506.6,51.9 507.3,52.0 508.0,52.0 508.7,51.6 509.4,51.8 510.1,51.3 510.8,52.1 511.5,51.7 512.2,51.9 512.9,51.5 513.6,51.8 514.9,51.9 516.2,52.1 517.5,51.4 518.8,52.0 520.1,51.7 521.4,51.5 522.7,51.8 524.0,51.5 525.3,51.5 526.6,51.4 527.9,51.6 529.2,51.5 530.5,51.4 531.8,51.2 533.1,51.3 534.4,51.5 535.7,51.7 537.0,51.3 538.3,51.7 539.6,51.3 540.9,50.9 542.2,51.4 543.5,50.9 544.8,51.2 546.1,51.4 547.4,51.0 548.7,51.0 550.0,51.7 551.3,51.0 552.6,51.0 553.9,51.1 555.2,50.9 556.5,50.8 557.8,50.9 559.1,50.1 560.4,51.2 561.7,50.5 563.0,50.4 564.3,50.9 565.6,50.7 566.9,50.3 568.2,50.7 569.5,50.3 570.8,50.4 572.1,50.1 573.4,50.3 574.7,50.6 576.0,50.5 577.3,50.5 578.6,50.7 579.9,50.4 581.2,50.2 582.5,50.3 583.8,50.8 585.1,50.3 586.4,50.4 587.7,50.2 589.0,50.3 590.3,50.3 591.6,50.2 592.9,50.1 594.2,49.9 595.5,49.9 596.8,50.2 598.1,50.3 599.4,50.3 600.7,50.0 601.0,49.8" fill="none" stroke="#2a2a2a" stroke-width="1.0" stroke-linejoin="round"/>
<path d="M472.6,53.7 472.8,54.0 473.0,54.2 473.2,54.5 473.4,54.7 473.6,54.9 473.8,55.0 474.0,55.0 474.2,55.0 474.4,55.0 474.6,54.9 474.8,54.8 475.0,54.8 475.2,54.7 475.4,54.6 475.6,54.5 475.8,54.4 476.0,54.3 476.2,54.2 476.4,54.2 476.6,54.1 476.8,54.0 477.0,54.0 477.2,54.0 477.4,53.9 477.6,53.9 477.8,53.9 478.0,53.9 478.2,53.8 478.4,53.8 478.6,53.8 478.8,53.8 479.0,53.8 479.2,53.7 479.4,53.7 479.6,53.7 479.8,53.7 480.0,53.7 480.2,53.6 480.4,53.6 480.6,53.6 480.8,53.6 481.0,53.6 481.2,53.6 481.4,53.6 481.6,53.5 481.8,53.5 482.0,53.5 482.2,53.5 482.4,53.5 482.6,53.5 482.8,53.5 483.0,53.5 483.2,53.5 483.4,53.4 483.6,53.4 483.8,53.4 484.0,53.4 484.2,53.4 484.4,53.4 484.6,53.4 485.3,53.6 486.0,53.6 486.7,52.9 487.4,53.6 488.1,53.5 488.8,53.8 489.5,53.0 490.2,53.0 490.9,53.5 491.6,52.8 492.3,53.1 493.0,53.0 493.7,53.0 494.4,52.8 495.1,53.2 495.8,53.6 496.5,53.4 497.2,53.4 497.9,53.2 498.6,53.7 499.3,53.4 500.0,53.5 500.7,52.8 501.4,53.3 502.1,52.9 502.8,53.3 503.5,53.3 504.2,52.9 504.9,53.3 505.6,53.5 506.3,53.3 507.0,53.3 507.7,52.9 508.4,53.0 509.1,52.9 509.8,53.2 510.5,53.5 511.2,53.3 511.9,53.1 512.6,52.8 513.9,53.2 515.2,53.0 516.5,52.6 517.8,52.6 519.1,53.0 520.4,52.8 521.7,53.5 523.0,53.0 524.3,52.7 525.6,52.9 526.9,53.4 528.2,52.7 529.5,53.2 530.8,53.1 532.1,53.3 533.4,53.1 534.7,52.8 536.0,53.1 537.3,52.9 538.6,53.2 539.9,52.9 541.2,53.4 542.5,52.8 543.8,53.0 545.1,52.7 546.4,52.9 547.7,52.8 549.0,52.9 550.3,53.1 551.6,52.7 552.9,52.6 554.2,53.1 555.5,52.7 556.8,52.6 558.1,53.1 559.4,53.0 560.7,52.1 562.0,52.7 563.3,53.0 564.6,53.1 565.9,52.7 567.2,53.3 568.5,52.6 569.8,52.8 571.1,52.9 572.4,52.9 573.7,53.1 575.0,53.2 576.3,53.0 577.6,53.4 578.9,52.8 580.2,53.0 581.5,53.6 582.8,53.1 584.1,53.4 585.4,53.0 586.7,53.1 588.0,53.2 589.3,53.3 590.6,53.2 591.9,53.3 593.2,53.6 594.5,53.8 595.8,53.5 597.1,53.7 598.4,53.8 599.7,53.3 601.0,53.2" fill="none" stroke="#2a2a2a" stroke-width="1.0" stroke-linejoin="round"/>
<path d="M472.6,53.7 472.8,54.4 473.0,55.1 473.2,55.7 473.4,56.2 473.6,56.5 473.8,56.7 474.0,56.9 474.2,57.1 474.4,57.3 474.6,57.4 474.8,57.5 475.0,57.5 475.2,57.5 475.4,57.5 475.6,57.4 475.8,57.4 476.0,57.3 476.2,57.2 476.4,57.1 476.6,57.0 476.8,56.9 477.0,56.9 477.2,56.8 477.4,56.7 477.6,56.6 477.8,56.5 478.0,56.5 478.2,56.5 478.4,56.4 478.6,56.4 478.8,56.3 479.0,56.3 479.2,56.3 479.4,56.2 479.6,56.2 479.8,56.2 480.0,56.1 480.2,56.1 480.4,56.1 480.6,56.0 480.8,56.0 481.0,56.0 481.2,55.9 481.4,55.9 481.6,55.9 481.8,55.8 482.0,55.8 482.2,55.8 482.4,55.8 482.6,55.7 482.8,55.7 483.0,55.7 483.2,55.7 483.4,55.6 483.6,55.6 483.8,55.6 484.0,55.6 484.2,55.6 484.4,55.5 484.6,55.5 485.3,55.9 486.0,55.8 486.7,55.4 487.4,55.4 488.1,55.0 488.8,54.9 489.5,55.3 490.2,54.8 490.9,55.4 491.6,54.9 492.3,55.2 493.0,55.6 493.7,55.6 494.4,54.9 495.1,55.3 495.8,54.7 496.5,54.8 497.2,55.1 497.9,55.3 498.6,54.8 499.3,55.1 500.0,55.0 500.7,54.6 501.4,54.9 502.1,55.3 502.8,54.9 503.5,55.0 504.2,55.1 504.9,54.7 505.6,55.2 506.3,55.3 507.0,55.3 507.7,55.2 508.4,54.7 509.1,54.6 509.8,54.6 510.5,54.5 511.2,54.6 511.9,55.0 512.6,55.2 513.9,54.6 515.2,55.0 516.5,54.4 517.8,54.6 519.1,54.4 520.4,54.2 521.7,54.7 523.0,54.7 524.3,54.5 525.6,54.5 526.9,54.4 528.2,54.6 529.5,54.4 530.8,54.7 532.1,54.3 533.4,54.6 534.7,54.7 536.0,54.9 537.3,54.9 538.6,54.6 539.9,54.4 541.2,54.0 542.5,54.5 543.8,54.9 545.1,55.0 546.4,53.8 547.7,54.3 549.0,54.4 550.3,54.2 551.6,54.6 552.9,54.5 554.2,54.4 555.5,54.5 556.8,54.1 558.1,54.2 559.4,54.3 560.7,54.8 562.0,54.0 563.3,54.4 564.6,54.7 565.9,54.5 567.2,54.8 568.5,54.4 569.8,54.7 571.1,54.8 572.4,55.2 573.7,54.8 575.0,55.0 576.3,54.7 577.6,54.7 578.9,55.2 580.2,54.9 581.5,55.2 582.8,55.0 584.1,55.4 585.4,55.5 586.7,54.7 588.0,55.5 589.3,55.1 590.6,55.1 591.9,55.0 593.2,55.3 594.5,54.8 595.8,54.9 597.1,55.0 598.4,55.3 599.7,55.5 601.0,55.5" fill="none" stroke="#2a2a2a" stroke-width="1.0" stroke-linejoin="round"/>
<path d="M472.6,53.7 472.8,58.7 473.0,62.9 473.2,66.0 473.4,68.3 473.6,70.1 473.8,71.0 474.0,71.2 474.2,71.4 474.4,71.5 474.6,71.5 474.8,71.3 475.0,70.8 475.2,70.1 475.4,69.3 475.6,68.4 475.8,67.6 476.0,67.0 476.2,66.5 476.4,66.0 476.6,65.5 476.8,65.0 477.0,64.6 477.2,64.2 477.4,63.7 477.6,63.4 477.8,63.0 478.0,62.7 478.2,62.4 478.4,62.1 478.6,61.9 478.8,61.7 479.0,61.5 479.2,61.3 479.4,61.1 479.6,60.9 479.8,60.8 480.0,60.6 480.2,60.5 480.4,60.3 480.6,60.2 480.8,60.1 481.0,60.0 481.2,59.9 481.4,59.8 481.6,59.7 481.8,59.6 482.0,59.5 482.2,59.4 482.4,59.4 482.6,59.3 482.8,59.2 483.0,59.1 483.2,59.1 483.4,59.0 483.6,59.0 483.8,58.9 484.0,58.8 484.2,58.8 484.4,58.7 484.6,58.7 485.3,58.6 486.0,58.2 486.7,57.7 487.4,58.2 488.1,58.0 488.8,58.0 489.5,58.2 490.2,57.6 490.9,57.5 491.6,56.9 492.3,57.6 493.0,57.3 493.7,57.1 494.4,57.4 495.1,56.9 495.8,57.0 496.5,57.7 497.2,57.3 497.9,57.3 498.6,57.2 499.3,57.2 500.0,57.0 500.7,57.5 501.4,56.8 502.1,57.0 502.8,56.7 503.5,56.7 504.2,56.1 504.9,56.2 505.6,57.1 506.3,57.1 507.0,56.5 507.7,56.6 508.4,56.7 509.1,56.3 509.8,57.0 510.5,56.2 511.2,56.3 511.9,55.7 512.6,56.8 513.9,56.4 515.2,56.8 516.5,56.0 517.8,56.3 519.1,56.2 520.4,56.2 521.7,56.7 523.0,56.7 524.3,56.4 525.6,55.9 526.9,56.2 528.2,56.3 529.5,56.1 530.8,56.0 532.1,56.0 533.4,55.6 534.7,55.9 536.0,56.2 537.3,55.4 538.6,55.7 539.9,55.9 541.2,55.3 542.5,55.6 543.8,55.1 545.1,55.4 546.4,55.1 547.7,55.2 549.0,55.3 550.3,55.4 551.6,55.4 552.9,54.7 554.2,55.8 555.5,55.2 556.8,55.0 558.1,55.1 559.4,55.3 560.7,54.9 562.0,55.0 563.3,55.0 564.6,55.2 565.9,54.8 567.2,55.1 568.5,55.1 569.8,54.9 571.1,55.3 572.4,54.9 573.7,54.5 575.0,54.9 576.3,54.8 577.6,54.7 578.9,54.8 580.2,55.3 581.5,54.7 582.8,54.7 584.1,54.5 585.4,54.9 586.7,54.5 588.0,54.3 589.3,54.1 590.6,54.6 591.9,54.6 593.2,53.9 594.5,54.1 595.8,54.5 597.1,54.6 598.4,53.9 599.7,54.1 601.0,54.4" fill="none" stroke="#2a2a2a" stroke-width="1.0" stroke-linejoin="round"/>
<path d="M472.6,53.7 472.8,54.3 473.0,54.9 473.2,55.4 473.4,56.0 473.6,56.5 473.8,57.0 474.0,57.5 474.2,58.0 474.4,58.5 474.6,59.0 474.8,59.5 475.0,60.1 475.2,60.7 475.4,61.3 475.6,61.8 475.8,62.4 476.0,62.9 476.2,63.4 476.4,63.9 476.6,64.4 476.8,64.9 477.0,65.3 477.2,65.7 477.4,66.2 477.6,66.6 477.8,67.1 478.0,67.5 478.2,68.0 478.4,68.4 478.6,68.9 478.8,69.4 479.0,69.9 479.2,70.3 479.4,70.8 479.6,71.2 479.8,71.7 480.0,72.1 480.2,72.5 480.4,72.9 480.6,73.3 480.8,73.6 481.0,74.0 481.2,74.3 481.4,74.6 481.6,75.0 481.8,75.3 482.0,75.6 482.2,75.9 482.4,76.1 482.6,76.4 482.8,76.7 483.0,76.9 483.2,77.2 483.4,77.4 483.6,77.7 483.8,77.9 484.0,78.1 484.2,78.3 484.4,78.5 484.6,78.7 485.3,79.1 486.0,79.5 486.7,79.7 487.4,79.7 488.1,80.1 488.8,79.9 489.5,79.0 490.2,78.9 490.9,78.6 491.6,77.6 492.3,77.0 493.0,75.5 493.7,75.0 494.4,73.5 495.1,73.4 495.8,71.9 496.5,71.2 497.2,70.6 497.9,70.2 498.6,69.7 499.3,69.2 500.0,69.0 500.7,69.0 501.4,68.8 502.1,68.3 502.8,68.5 503.5,67.7 504.2,67.4 504.9,67.2 505.6,67.5 506.3,66.7 507.0,66.5 507.7,67.1 508.4,67.0 509.1,66.7 509.8,65.8 510.5,66.0 511.2,66.1 511.9,65.7 512.6,65.0 513.9,65.1 515.2,64.4 516.5,64.2 517.8,64.8 519.1,64.1 520.4,63.1 521.7,62.8 523.0,63.0 524.3,62.4 525.6,62.5 526.9,61.9 528.2,61.7 529.5,61.6 530.8,61.1 532.1,60.6 533.4,60.7 534.7,60.6 536.0,60.6 537.3,60.4 538.6,60.3 539.9,60.3 541.2,59.7 542.5,60.2 543.8,60.2 545.1,59.6 546.4,59.4 547.7,59.6 549.0,59.3 550.3,59.1 551.6,58.8 552.9,58.6 554.2,58.3 555.5,58.8 556.8,58.8 558.1,58.1 559.4,58.3 560.7,58.3 562.0,58.1 563.3,57.9 564.6,57.9 565.9,57.4 567.2,57.9 568.5,57.8 569.8,58.4 571.1,58.0 572.4,57.6 573.7,57.6 575.0,58.0 576.3,57.9 577.6,57.5 578.9,57.3 580.2,56.9 581.5,57.2 582.8,57.2 584.1,57.0 585.4,57.6 586.7,56.6 588.0,57.0 589.3,57.2 590.6,57.1 591.9,57.5 593.2,56.6 594.5,56.7 595.8,57.0 597.1,56.9 598.4,56.8 599.7,56.7 601.0,57.2" fill="none" stroke="#2a2a2a" stroke-width="1.0" stroke-linejoin="round"/>
<path d="M472.6,53.7 472.8,60.3 473.0,66.4 473.2,72.0 473.4,77.5 473.6,82.4 473.8,85.2 474.0,87.4 474.2,88.8 474.4,89.0 474.6,88.9 474.8,88.7 475.0,88.5 475.2,88.0 475.4,87.2 475.6,86.1 475.8,85.0 476.0,84.0 476.2,83.1 476.4,82.1 476.6,81.1 476.8,80.1 477.0,79.2 477.2,78.3 477.4,77.4 477.6,76.6 477.8,75.8 478.0,75.0 478.2,74.2 478.4,73.5 478.6,72.7 478.8,72.0 479.0,71.3 479.2,70.7 479.4,70.1 479.6,69.5 479.8,69.0 480.0,68.5 480.2,68.1 480.4,67.6 480.6,67.2 480.8,66.8 481.0,66.4 481.2,66.0 481.4,65.7 481.6,65.3 481.8,65.0 482.0,64.7 482.2,64.4 482.4,64.2 482.6,63.9 482.8,63.7 483.0,63.5 483.2,63.3 483.4,63.1 483.6,63.0 483.8,62.8 484.0,62.7 484.2,62.5 484.4,62.4 484.6,62.2 485.3,61.5 486.0,61.3 486.7,61.5 487.4,61.3 488.1,60.8 488.8,60.1 489.5,59.9 490.2,59.7 490.9,59.4 491.6,59.5 492.3,59.8 493.0,59.4 493.7,59.0 494.4,58.9 495.1,58.7 495.8,59.2 496.5,58.3 497.2,58.8 497.9,58.3 498.6,58.3 499.3,58.1 500.0,58.8 500.7,58.4 501.4,59.1 502.1,58.0 502.8,58.0 503.5,58.4 504.2,58.3 504.9,58.1 505.6,57.5 506.3,58.5 507.0,58.2 507.7,58.1 508.4,57.8 509.1,58.1 509.8,57.7 510.5,57.8 511.2,57.7 511.9,58.1 512.6,57.6 513.9,57.6 515.2,57.9 516.5,57.6 517.8,57.4 519.1,57.3 520.4,57.6 521.7,57.0 523.0,57.3 524.3,57.7 525.6,57.1 526.9,56.7 528.2,56.6 529.5,56.9 530.8,56.4 532.1,56.3 533.4,56.4 534.7,56.3 536.0,56.8 537.3,56.1 538.6,56.8 539.9,56.1 541.2,56.3 542.5,56.4 543.8,56.2 545.1,56.3 546.4,55.8 547.7,55.4 549.0,55.9 550.3,55.5 551.6,55.7 552.9,56.1 554.2,55.7 555.5,55.6 556.8,55.4 558.1,55.6 559.4,55.5 560.7,55.1 562.0,55.6 563.3,55.2 564.6,55.5 565.9,55.3 567.2,55.6 568.5,55.5 569.8,55.3 571.1,55.2 572.4,55.3 573.7,55.5 575.0,55.4 576.3,55.1 577.6,55.1 578.9,55.4 580.2,54.5 581.5,55.1 582.8,54.6 584.1,55.2 585.4,54.7 586.7,54.8 588.0,54.5 589.3,54.7 590.6,54.9 591.9,55.1 593.2,54.3 594.5,54.5 595.8,55.7 597.1,54.8 598.4,54.5 599.7,54.7 601.0,53.7" fill="none" stroke="#2a2a2a" stroke-width="1.0" stroke-linejoin="round"/>
<path d="M472.6,53.7 472.8,61.2 473.0,68.3 473.2,75.0 473.4,81.5 473.6,87.4 473.8,92.4 474.0,96.8 474.2,100.0 474.4,102.2 474.6,104.0 474.8,105.0 475.0,105.1 475.2,104.6 475.4,103.8 475.6,103.0 475.8,102.0 476.0,100.9 476.2,99.6 476.4,98.2 476.6,97.0 476.8,95.8 477.0,94.6 477.2,93.5 477.4,92.3 477.6,91.2 477.8,90.1 478.0,89.0 478.2,88.0 478.4,87.0 478.6,86.1 478.8,85.2 479.0,84.3 479.2,83.5 479.4,82.6 479.6,81.8 479.8,81.0 480.0,80.3 480.2,79.5 480.4,78.8 480.6,78.2 480.8,77.5 481.0,76.8 481.2,76.2 481.4,75.6 481.6,75.0 481.8,74.4 482.0,73.8 482.2,73.3 482.4,72.8 482.6,72.3 482.8,71.9 483.0,71.5 483.2,71.1 483.4,70.8 483.6,70.4 483.8,70.1 484.0,69.8 484.2,69.5 484.4,69.2 484.6,68.9 485.3,68.4 486.0,67.2 486.7,66.1 487.4,66.2 488.1,65.1 488.8,64.5 489.5,64.5 490.2,64.0 490.9,63.4 491.6,63.2 492.3,62.5 493.0,62.1 493.7,62.5 494.4,62.3 495.1,61.9 495.8,61.7 496.5,61.4 497.2,61.4 497.9,61.0 498.6,61.7 499.3,60.9 500.0,61.1 500.7,60.9 501.4,60.5 502.1,61.3 502.8,60.6 503.5,60.4 504.2,60.6 504.9,60.3 505.6,60.5 506.3,60.1 507.0,60.5 507.7,60.3 508.4,59.8 509.1,60.4 509.8,60.1 510.5,59.7 511.2,60.1 511.9,60.1 512.6,60.4 513.9,59.5 515.2,59.9 516.5,59.6 517.8,59.7 519.1,59.3 520.4,59.2 521.7,59.3 523.0,58.7 524.3,58.3 525.6,58.8 526.9,58.6 528.2,58.6 529.5,58.6 530.8,58.3 532.1,58.6 533.4,58.1 534.7,58.0 536.0,58.1 537.3,58.0 538.6,57.7 539.9,57.6 541.2,57.3 542.5,57.2 543.8,57.3 545.1,57.4 546.4,56.9 547.7,57.2 549.0,57.4 550.3,57.4 551.6,56.7 552.9,56.9 554.2,56.7 555.5,56.7 556.8,56.7 558.1,56.5 559.4,56.6 560.7,56.3 562.0,56.2 563.3,56.3 564.6,56.3 565.9,56.4 567.2,56.2 568.5,56.2 569.8,56.4 571.1,55.7 572.4,55.8 573.7,56.0 575.0,55.8 576.3,55.5 577.6,56.0 578.9,55.7 580.2,55.4 581.5,56.1 582.8,55.2 584.1,55.5 585.4,55.3 586.7,55.5 588.0,55.6 589.3,55.2 590.6,55.4 591.9,55.3 593.2,55.1 594.5,55.7 595.8,55.4 597.1,55.2 598.4,55.1 599.7,55.2 601.0,55.4" fill="none" stroke="#2a2a2a" stroke-width="1.0" stroke-linejoin="round"/>
<path d="M472.6,53.7 472.8,62.4 473.0,70.5 473.2,78.0 473.4,85.1 473.6,91.4 473.8,96.3 474.0,100.4 474.2,103.7 474.4,106.1 474.6,108.0 474.8,109.6 475.0,111.0 475.2,112.3 475.4,113.4 475.6,114.4 475.8,115.0 476.0,115.4 476.2,115.8 476.4,116.1 476.6,116.3 476.8,116.2 477.0,115.7 477.2,114.7 477.4,113.6 477.6,112.5 477.8,111.4 478.0,110.1 478.2,108.7 478.4,107.5 478.6,106.3 478.8,105.2 479.0,104.1 479.2,103.0 479.4,102.0 479.6,101.0 479.8,100.1 480.0,99.2 480.2,98.3 480.4,97.5 480.6,96.7 480.8,95.9 481.0,95.2 481.2,94.5 481.4,93.8 481.6,93.2 481.8,92.6 482.0,92.1 482.2,91.6 482.4,91.1 482.6,90.6 482.8,90.1 483.0,89.6 483.2,89.1 483.4,88.6 483.6,88.1 483.8,87.5 484.0,86.9 484.2,86.3 484.4,85.8 484.6,85.2 485.3,83.2 486.0,82.1 486.7,79.5 487.4,78.2 488.1,77.4 488.8,75.8 489.5,75.1 490.2,74.0 490.9,73.4 491.6,72.4 492.3,71.8 493.0,71.0 493.7,70.3 494.4,69.4 495.1,68.9 495.8,68.1 496.5,67.2 497.2,66.5 497.9,66.1 498.6,66.1 499.3,64.9 500.0,65.2 500.7,64.6 501.4,64.6 502.1,64.2 502.8,63.7 503.5,63.6 504.2,62.7 504.9,63.2 505.6,63.1 506.3,62.2 507.0,62.8 507.7,62.3 508.4,62.2 509.1,61.6 509.8,62.0 510.5,61.9 511.2,61.5 511.9,61.1 512.6,61.4 513.9,61.3 515.2,60.7 516.5,60.6 517.8,59.9 519.1,59.8 520.4,59.7 521.7,59.4 523.0,59.9 524.3,59.1 525.6,58.7 526.9,59.0 528.2,58.3 529.5,58.7 530.8,58.7 532.1,58.2 533.4,58.2 534.7,58.0 536.0,58.2 537.3,57.9 538.6,58.5 539.9,58.1 541.2,57.8 542.5,57.4 543.8,58.4 545.1,58.1 546.4,57.8 547.7,57.7 549.0,57.6 550.3,57.4 551.6,58.0 552.9,57.5 554.2,57.0 555.5,57.2 556.8,56.6 558.1,57.5 559.4,57.5 560.7,57.7 562.0,57.8 563.3,56.9 564.6,57.2 565.9,57.3 567.2,57.2 568.5,56.8 569.8,57.1 571.1,57.0 572.4,57.2 573.7,56.8 575.0,56.7 576.3,56.6 577.6,56.6 578.9,56.4 580.2,56.5 581.5,56.7 582.8,56.7 584.1,56.9 585.4,56.8 586.7,56.6 588.0,56.1 589.3,56.6 590.6,56.7 591.9,56.0 593.2,56.0 594.5,56.0 595.8,56.0 597.1,56.2 598.4,56.0 599.7,56.3 601.0,55.9" fill="none" stroke="#2a2a2a" stroke-width="1.0" stroke-linejoin="round"/>
<line x1="461.6" y1="53.7" x2="472.0" y2="53.7" stroke="#000" stroke-width="2"/>
<path d="M471.2,10.3 L473.6,10.3 L473.4,47.7 L473.0,55.7 L471.6,55.7 Z" fill="#111" stroke="none"/>
<text x="17.33" y="161.70" font-family='"Liberation Serif", serif' font-size="17.71" font-weight="bold" fill="#000" textLength="10.93" lengthAdjust="spacingAndGlyphs">B</text>
<path d="M66.2,195.8 66.4,215.0 66.6,240.0 66.8,259.4 67.0,266.7 67.2,271.1 67.4,274.3 67.6,277.0 67.8,280.0 68.0,283.4 68.2,286.8 68.4,289.9 68.6,292.7 68.8,295.3 69.0,297.9 69.2,300.1 69.4,301.0 69.6,298.9 69.8,293.9 70.0,287.0 70.2,275.4 70.4,265.0 70.6,258.3 70.8,252.7 71.0,248.0 71.2,243.9 71.4,240.4 71.6,237.7 71.8,235.7 72.0,234.0 72.2,232.5 72.4,231.2 72.6,230.0 72.8,228.9 73.0,227.8 73.2,226.8 73.4,225.9 73.6,225.1 73.8,224.3 74.0,223.6 74.2,222.8 74.4,222.2 74.6,221.5 74.8,220.9 75.0,220.3 75.2,219.7 75.4,219.1 75.6,218.5 75.8,217.9 76.0,217.3 76.2,216.7 76.4,216.1 76.6,215.5 76.8,214.9 77.0,214.3 77.2,213.7 77.4,213.1 77.6,212.5 77.8,212.0 78.0,211.4 78.2,210.9 78.9,209.4 79.6,208.1 80.3,206.9 81.0,205.8 81.7,204.8 82.4,204.0 83.1,203.2 83.8,202.5 84.5,201.9 85.2,201.3 85.9,200.8 86.6,200.3 87.3,199.8 88.0,199.3 88.7,198.9 89.4,198.6 90.1,198.2 90.8,197.9 91.5,197.5 92.2,197.2 92.9,196.9 93.6,196.6 94.3,196.4 95.0,196.1 95.7,195.8 96.4,195.6 97.1,195.4 97.8,195.2 98.5,195.0 99.2,194.8 99.9,194.6 100.6,194.5 101.3,194.3 102.0,194.2 102.7,194.0 103.4,193.9 104.1,193.8 104.8,193.7 105.5,193.6 106.2,193.5 107.5,193.3 108.8,193.1 110.1,192.9 111.4,192.8 112.7,192.6 114.0,192.5 115.3,192.3 116.6,192.2 117.9,192.1 119.2,191.9 120.5,191.8 121.8,191.6 123.1,191.5 124.4,191.5 125.7,191.3 127.0,191.3 128.3,191.1 129.6,191.1 130.9,191.0 132.2,190.8 133.5,190.6 134.8,190.8 136.1,190.7 137.4,190.5 138.7,190.5 140.0,190.4 141.3,190.3 142.6,190.1 143.9,190.2 145.2,190.1 146.5,190.0 147.8,189.9 149.1,190.1 150.4,190.0 151.7,189.8 153.0,189.7 154.3,189.5 155.6,189.5 156.9,189.6 158.2,189.7 159.5,189.4 160.8,189.4 162.1,189.7 163.4,189.5 164.7,189.4 166.0,189.5 167.3,189.3 168.6,189.3 169.9,189.3 171.2,189.3 172.5,189.1 173.8,189.3 175.1,188.9 176.4,189.0 177.7,189.3 179.0,188.9 180.3,189.0 181.6,188.8 182.9,188.9 184.2,188.8 185.5,188.8 186.8,188.9 188.1,188.9 189.4,188.8 190.7,188.9 192.0,188.6 193.3,188.8 194.6,188.7 195.9,188.7 197.2,188.5 198.5,188.5 199.8,188.6 201.1,188.5 202.4,188.5 203.7,188.4 205.0,188.4 206.3,188.4 207.6,188.4 208.9,188.3 210.2,188.3 211.5,188.3 212.8,188.1 214.1,188.3 215.4,188.2 216.7,188.1 218.0,187.9 219.3,188.0 220.6,188.0 221.9,188.0 223.2,187.9 224.5,188.0 225.8,188.0 227.1,187.9 228.4,187.7 229.7,188.1 231.0,187.9 232.3,188.0 233.6,187.8 234.9,187.8 236.2,187.9 237.5,187.6 238.8,187.3 240.1,186.7 241.4,186.7 242.7,186.5 244.0,187.0 245.2,188.1" fill="none" stroke="#111" stroke-width="1.2" stroke-linejoin="round"/>
<path d="M66.2,195.8 66.4,215.0 66.6,240.0 66.8,259.4 67.0,266.7 67.2,271.1 67.4,274.3 67.6,277.0 67.8,280.0 68.0,283.4 68.2,286.8 68.4,289.9 68.6,292.7 68.8,295.3 69.0,297.9 69.2,300.1 69.4,301.0 69.6,300.7 69.8,300.0 70.0,299.0 70.2,298.0 70.4,297.0 70.6,295.9 70.8,294.8 71.0,293.5 71.2,292.1 71.4,290.7 71.6,289.2 71.8,287.6 72.0,285.8 72.2,283.9 72.4,281.9 72.6,279.9 72.8,277.9 73.0,276.0 73.2,274.1 73.4,272.2 73.6,270.3 73.8,268.3 74.0,266.5 74.2,264.7 74.4,263.0 74.6,261.4 74.8,259.8 75.0,258.3 75.2,256.9 75.4,255.4 75.6,254.0 75.8,252.7 76.0,251.3 76.2,250.0 76.4,248.7 76.6,247.4 76.8,246.1 77.0,244.8 77.2,243.6 77.4,242.4 77.6,241.2 77.8,240.1 78.0,239.0 78.2,238.0 78.9,234.6 79.6,231.6 80.3,229.2 81.0,226.9 81.7,224.7 82.4,222.3 83.1,219.8 83.8,217.6 84.5,215.6 85.2,213.8 85.9,212.0 86.6,210.4 87.3,209.1 88.0,207.9 88.7,206.8 89.4,205.7 90.1,204.8 90.8,204.0 91.5,203.4 92.2,202.8 92.9,202.3 93.6,201.9 94.3,201.4 95.0,201.0 95.7,200.7 96.4,200.3 97.1,200.0 97.8,199.7 98.5,199.4 99.2,199.2 99.9,199.0 100.6,198.7 101.3,198.5 102.0,198.4 102.7,198.2 103.4,198.0 104.1,197.8 104.8,197.7 105.5,197.5 106.2,197.4 107.5,197.1 108.8,196.9 110.1,196.7 111.4,196.5 112.7,196.3 114.0,196.1 115.3,195.9 116.6,195.8 117.9,195.6 119.2,195.5 120.5,195.3 121.8,195.2 123.1,194.9 124.4,195.1 125.7,194.7 127.0,194.8 128.3,194.7 129.6,194.6 130.9,194.6 132.2,194.2 133.5,194.1 134.8,194.0 136.1,193.7 137.4,193.8 138.7,193.5 140.0,193.4 141.3,193.2 142.6,193.1 143.9,192.9 145.2,192.9 146.5,192.7 147.8,192.8 149.1,192.6 150.4,192.3 151.7,192.6 153.0,192.5 154.3,192.4 155.6,192.7 156.9,192.4 158.2,192.2 159.5,192.2 160.8,192.3 162.1,192.2 163.4,192.3 164.7,192.3 166.0,192.1 167.3,192.2 168.6,192.2 169.9,192.1 171.2,192.0 172.5,192.1 173.8,192.1 175.1,191.9 176.4,191.9 177.7,191.9 179.0,191.9 180.3,191.8 181.6,192.0 182.9,191.7 184.2,191.7 185.5,191.8 186.8,191.5 188.1,191.6 189.4,191.8 190.7,191.5 192.0,191.6 193.3,191.7 194.6,191.6 195.9,191.6 197.2,191.6 198.5,191.5 199.8,191.5 201.1,191.5 202.4,191.7 203.7,191.5 205.0,191.4 206.3,191.4 207.6,191.4 208.9,191.2 210.2,191.2 211.5,191.4 212.8,191.1 214.1,191.2 215.4,191.3 216.7,191.4 218.0,191.1 219.3,191.3 220.6,191.1 221.9,191.3 223.2,191.2 224.5,191.1 225.8,191.2 227.1,191.1 228.4,191.0 229.7,191.3 231.0,191.0 232.3,191.1 233.6,191.0 234.9,190.8 236.2,190.9 237.5,191.0 238.8,191.0 240.1,191.1 241.4,190.9 242.7,190.9 244.0,190.8 245.2,190.9" fill="none" stroke="#111" stroke-width="1.2" stroke-linejoin="round"/>
<line x1="54" y1="187.5" x2="63" y2="187.5" stroke="#000" stroke-width="1.8"/>
<path d="M62.4,187.5 L62.4,168.1 M64.7,168.1 L64.7,193.7 L66.2,195.8" fill="none" stroke="#000" stroke-width="1.3"/>
<path d="M244.4,188.2 L245.9,188.2 L245.9,218.8 L248.4,218.8 L248.4,244.5 L246.8,245.5 L246.8,288 L246.6,304 L245.9,309.6 L245.1,304 L244.9,288 L243.9,287.8 L243.9,218.8 L244.4,218.8 Z" fill="#000"/>
<path d="M246.8,240.0 247.0,229.3 247.2,221.0 247.4,215.6 247.6,211.8 247.8,209.8 248.0,208.5 248.2,207.5 248.4,206.7 248.6,206.0 248.8,205.4 249.0,204.8 249.2,204.3 249.4,203.8 249.6,203.4 249.8,203.0 250.0,202.6 250.2,202.2 250.4,201.8 250.6,201.5 250.8,201.1 251.0,200.8 251.2,200.5 251.4,200.2 251.6,199.9 251.8,199.6 252.0,199.3 252.2,199.0 252.4,198.7 252.6,198.4 252.8,198.1 253.0,197.9 253.2,197.6 253.4,197.4 253.6,197.2 253.8,197.0 254.0,196.8 254.2,196.6 254.4,196.4 254.6,196.3 254.8,196.2 255.0,196.0 255.2,195.9 255.4,195.8 255.6,195.7 255.8,195.5 256.0,195.4 256.2,195.3 256.4,195.2 256.6,195.1 256.8,195.1 257.0,195.0 257.2,194.9 257.4,194.8 257.6,194.8 257.8,194.7 258.0,194.6 258.2,194.6 258.4,194.5 258.6,194.5 258.8,194.4 259.5,194.2 260.2,194.1 260.9,194.0 261.6,193.9 261.7,193.9" fill="none" stroke="#111" stroke-width="1.2"/>
<line x1="109.50" y1="240.80" x2="80.60" y2="225.00" stroke="#000" stroke-width="2.2" />
<polyline points="91.20,224.50 80.60,225.00 84.50,234.00" fill="none" stroke="#000" stroke-width="2.2" />
<line x1="109.50" y1="270.70" x2="75.80" y2="261.60" stroke="#000" stroke-width="2.2" />
<polyline points="88.30,259.00 75.80,261.60 84.50,269.70" fill="none" stroke="#000" stroke-width="2.2" />
<text x="117.86" y="246.60" font-family='"Liberation Sans", sans-serif' font-size="14.10" font-weight="bold" fill="#000" textLength="89.09" lengthAdjust="spacingAndGlyphs">YM11 200 nM</text>
<text x="119.75" y="277.60" font-family='"Liberation Sans", sans-serif' font-size="13.95" font-weight="bold" fill="#000" textLength="47.49" lengthAdjust="spacingAndGlyphs">Control</text>
<line x1="64.70" y1="348.90" x2="64.70" y2="551.32" stroke="#111" stroke-width="1.2" />
<line x1="59.90" y1="348.90" x2="206.20" y2="348.90" stroke="#111" stroke-width="1.3" />
<line x1="59.90" y1="348.90" x2="64.70" y2="348.90" stroke="#111" stroke-width="1.2" />
<text x="46.69" y="352.80" font-family='"Liberation Sans", sans-serif' font-size="13.61" font-weight="normal" fill="#000" textLength="7.33" lengthAdjust="spacingAndGlyphs">0</text>
<line x1="59.90" y1="374.14" x2="64.70" y2="374.14" stroke="#111" stroke-width="1.2" />
<text x="30.41" y="378.04" font-family='"Liberation Sans", sans-serif' font-size="13.61" font-weight="normal" fill="#000" textLength="23.84" lengthAdjust="spacingAndGlyphs">−10</text>
<line x1="59.90" y1="399.38" x2="64.70" y2="399.38" stroke="#111" stroke-width="1.2" />
<text x="30.41" y="403.28" font-family='"Liberation Sans", sans-serif' font-size="13.61" font-weight="normal" fill="#000" textLength="23.84" lengthAdjust="spacingAndGlyphs">−20</text>
<line x1="59.90" y1="424.62" x2="64.70" y2="424.62" stroke="#111" stroke-width="1.2" />
<text x="30.41" y="428.52" font-family='"Liberation Sans", sans-serif' font-size="13.61" font-weight="normal" fill="#000" textLength="23.84" lengthAdjust="spacingAndGlyphs">−30</text>
<line x1="59.90" y1="449.86" x2="64.70" y2="449.86" stroke="#111" stroke-width="1.2" />
<text x="30.41" y="453.76" font-family='"Liberation Sans", sans-serif' font-size="13.61" font-weight="normal" fill="#000" textLength="23.84" lengthAdjust="spacingAndGlyphs">−40</text>
<line x1="59.90" y1="475.10" x2="64.70" y2="475.10" stroke="#111" stroke-width="1.2" />
<text x="30.41" y="479.00" font-family='"Liberation Sans", sans-serif' font-size="13.61" font-weight="normal" fill="#000" textLength="23.84" lengthAdjust="spacingAndGlyphs">−50</text>
<line x1="59.90" y1="500.34" x2="64.70" y2="500.34" stroke="#111" stroke-width="1.2" />
<text x="30.41" y="504.24" font-family='"Liberation Sans", sans-serif' font-size="13.61" font-weight="normal" fill="#000" textLength="23.84" lengthAdjust="spacingAndGlyphs">−60</text>
<line x1="59.90" y1="525.58" x2="64.70" y2="525.58" stroke="#111" stroke-width="1.2" />
<text x="30.41" y="529.48" font-family='"Liberation Sans", sans-serif' font-size="13.61" font-weight="normal" fill="#000" textLength="23.84" lengthAdjust="spacingAndGlyphs">−70</text>
<line x1="59.90" y1="550.82" x2="64.70" y2="550.82" stroke="#111" stroke-width="1.2" />
<text x="30.41" y="554.72" font-family='"Liberation Sans", sans-serif' font-size="13.61" font-weight="normal" fill="#000" textLength="23.84" lengthAdjust="spacingAndGlyphs">−80</text>
<rect x="95.4" y="348.9" width="39.80" height="160.90" fill="#fff" stroke="#000" stroke-width="1"/>
<rect x="135.2" y="348.9" width="39.50" height="86.40" fill="#000" stroke="#000" stroke-width="1"/>
<line x1="115.20" y1="509.80" x2="115.20" y2="520.60" stroke="#000" stroke-width="1" />
<line x1="111.00" y1="520.60" x2="120.00" y2="520.60" stroke="#000" stroke-width="1" />
<line x1="155.80" y1="435.30" x2="155.80" y2="446.20" stroke="#000" stroke-width="1" />
<line x1="150.80" y1="446.20" x2="160.80" y2="446.20" stroke="#000" stroke-width="1" />
<text x="145.34" y="469.42" font-family='"Liberation Serif", serif' font-size="23.08" font-weight="bold" textLength="20.61" lengthAdjust="spacingAndGlyphs">**</text>
<text transform="translate(23.40,468.48) rotate(-90)" x="0" y="0" font-family='"Liberation Serif", serif' font-size="15.27" font-weight="bold" fill="#000" stroke="#000" stroke-width="0.35" textLength="39.58" lengthAdjust="spacingAndGlyphs">pA/pF</text>
<rect x="191.3" y="433.6" width="8.9" height="9.2" fill="#fff" stroke="#111" stroke-width="1.3"/>
<rect x="191" y="460" width="9.4" height="8.9" fill="#000"/>
<text x="201.83" y="442.60" font-family='"Liberation Mono", monospace' font-size="15.10" font-weight="normal" fill="#000" textLength="51.35" lengthAdjust="spacingAndGlyphs">Control</text>
<text x="202.28" y="468.90" font-family='"Liberation Mono", monospace' font-size="14.11" font-weight="normal" fill="#000" textLength="81.20" lengthAdjust="spacingAndGlyphs">YM11 200 nM</text>
<text x="313.78" y="180.10" font-family='"Liberation Serif", serif' font-size="17.91" font-weight="bold" fill="#000" textLength="13.67" lengthAdjust="spacingAndGlyphs">C</text>
<text x="463.39" y="212.90" font-family='"Liberation Sans", sans-serif' font-size="13.66" font-weight="bold" fill="#000" textLength="64.20" lengthAdjust="spacingAndGlyphs">Vm (mV)</text>
<line x1="349.90" y1="250.75" x2="659.70" y2="250.75" stroke="#1a1a1a" stroke-width="1.3" />
<line x1="354.60" y1="250.75" x2="354.60" y2="532.85" stroke="#1a1a1a" stroke-width="1.3" />
<line x1="388.50" y1="250.75" x2="388.50" y2="254.95" stroke="#1a1a1a" stroke-width="1.1" />
<line x1="422.40" y1="250.75" x2="422.40" y2="254.95" stroke="#1a1a1a" stroke-width="1.1" />
<line x1="456.30" y1="250.75" x2="456.30" y2="254.95" stroke="#1a1a1a" stroke-width="1.1" />
<line x1="490.20" y1="250.75" x2="490.20" y2="254.95" stroke="#1a1a1a" stroke-width="1.1" />
<line x1="524.10" y1="250.75" x2="524.10" y2="254.95" stroke="#1a1a1a" stroke-width="1.1" />
<line x1="558.00" y1="250.75" x2="558.00" y2="254.95" stroke="#1a1a1a" stroke-width="1.1" />
<line x1="591.90" y1="250.75" x2="591.90" y2="254.95" stroke="#1a1a1a" stroke-width="1.1" />
<line x1="625.80" y1="250.75" x2="625.80" y2="254.95" stroke="#1a1a1a" stroke-width="1.1" />
<line x1="659.70" y1="250.75" x2="659.70" y2="254.95" stroke="#1a1a1a" stroke-width="1.1" />
<line x1="349.90" y1="291.05" x2="354.60" y2="291.05" stroke="#1a1a1a" stroke-width="1.1" />
<line x1="349.90" y1="331.35" x2="354.60" y2="331.35" stroke="#1a1a1a" stroke-width="1.1" />
<line x1="349.90" y1="371.65" x2="354.60" y2="371.65" stroke="#1a1a1a" stroke-width="1.1" />
<line x1="349.90" y1="411.95" x2="354.60" y2="411.95" stroke="#1a1a1a" stroke-width="1.1" />
<line x1="349.90" y1="452.25" x2="354.60" y2="452.25" stroke="#1a1a1a" stroke-width="1.1" />
<line x1="349.90" y1="492.55" x2="354.60" y2="492.55" stroke="#1a1a1a" stroke-width="1.1" />
<line x1="349.90" y1="532.85" x2="354.60" y2="532.85" stroke="#1a1a1a" stroke-width="1.1" />
<text x="344.56" y="236.30" font-family='"Liberation Sans", sans-serif' font-size="12.75" font-weight="normal" fill="#2e2e2e" stroke="#2e2e2e" stroke-width="0.3" textLength="20.70" lengthAdjust="spacingAndGlyphs">-50</text>
<text x="379.29" y="236.30" font-family='"Liberation Sans", sans-serif' font-size="12.75" font-weight="normal" fill="#2e2e2e" stroke="#2e2e2e" stroke-width="0.3" textLength="19.74" lengthAdjust="spacingAndGlyphs">-40</text>
<text x="413.09" y="236.30" font-family='"Liberation Sans", sans-serif' font-size="12.75" font-weight="normal" fill="#2e2e2e" stroke="#2e2e2e" stroke-width="0.3" textLength="19.85" lengthAdjust="spacingAndGlyphs">-30</text>
<text x="446.80" y="236.30" font-family='"Liberation Sans", sans-serif' font-size="12.75" font-weight="normal" fill="#2e2e2e" stroke="#2e2e2e" stroke-width="0.3" textLength="19.53" lengthAdjust="spacingAndGlyphs">-20</text>
<text x="480.31" y="236.30" font-family='"Liberation Sans", sans-serif' font-size="12.75" font-weight="normal" fill="#2e2e2e" stroke="#2e2e2e" stroke-width="0.3" textLength="19.32" lengthAdjust="spacingAndGlyphs">-10</text>
<text x="519.42" y="236.30" font-family='"Liberation Sans", sans-serif' font-size="12.75" font-weight="normal" fill="#2e2e2e" stroke="#2e2e2e" stroke-width="0.3" textLength="8.26" lengthAdjust="spacingAndGlyphs">0</text>
<text x="550.67" y="236.30" font-family='"Liberation Sans", sans-serif' font-size="12.75" font-weight="normal" fill="#2e2e2e" stroke="#2e2e2e" stroke-width="0.3" textLength="15.06" lengthAdjust="spacingAndGlyphs">10</text>
<text x="584.82" y="236.30" font-family='"Liberation Sans", sans-serif' font-size="12.75" font-weight="normal" fill="#2e2e2e" stroke="#2e2e2e" stroke-width="0.3" textLength="15.01" lengthAdjust="spacingAndGlyphs">20</text>
<text x="618.67" y="236.30" font-family='"Liberation Sans", sans-serif' font-size="12.75" font-weight="normal" fill="#2e2e2e" stroke="#2e2e2e" stroke-width="0.3" textLength="15.47" lengthAdjust="spacingAndGlyphs">30</text>
<text x="652.59" y="236.30" font-family='"Liberation Sans", sans-serif' font-size="12.75" font-weight="normal" fill="#2e2e2e" stroke="#2e2e2e" stroke-width="0.3" textLength="15.25" lengthAdjust="spacingAndGlyphs">40</text>
<text x="333.04" y="255.05" font-family='"Liberation Sans", sans-serif' font-size="13.04" font-weight="normal" fill="#2e2e2e" stroke="#2e2e2e" stroke-width="0.3" textLength="7.91" lengthAdjust="spacingAndGlyphs">0</text>
<text x="320.99" y="295.35" font-family='"Liberation Sans", sans-serif' font-size="13.04" font-weight="normal" fill="#2e2e2e" stroke="#2e2e2e" stroke-width="0.3" textLength="19.95" lengthAdjust="spacingAndGlyphs">-10</text>
<text x="320.99" y="335.65" font-family='"Liberation Sans", sans-serif' font-size="13.04" font-weight="normal" fill="#2e2e2e" stroke="#2e2e2e" stroke-width="0.3" textLength="19.95" lengthAdjust="spacingAndGlyphs">-20</text>
<text x="320.99" y="375.95" font-family='"Liberation Sans", sans-serif' font-size="13.04" font-weight="normal" fill="#2e2e2e" stroke="#2e2e2e" stroke-width="0.3" textLength="19.95" lengthAdjust="spacingAndGlyphs">-30</text>
<text x="320.99" y="416.25" font-family='"Liberation Sans", sans-serif' font-size="13.04" font-weight="normal" fill="#2e2e2e" stroke="#2e2e2e" stroke-width="0.3" textLength="19.95" lengthAdjust="spacingAndGlyphs">-40</text>
<text x="320.99" y="456.55" font-family='"Liberation Sans", sans-serif' font-size="13.04" font-weight="normal" fill="#2e2e2e" stroke="#2e2e2e" stroke-width="0.3" textLength="19.95" lengthAdjust="spacingAndGlyphs">-50</text>
<text x="320.99" y="496.85" font-family='"Liberation Sans", sans-serif' font-size="13.04" font-weight="normal" fill="#2e2e2e" stroke="#2e2e2e" stroke-width="0.3" textLength="19.95" lengthAdjust="spacingAndGlyphs">-60</text>
<text x="320.99" y="537.15" font-family='"Liberation Sans", sans-serif' font-size="13.04" font-weight="normal" fill="#2e2e2e" stroke="#2e2e2e" stroke-width="0.3" textLength="19.95" lengthAdjust="spacingAndGlyphs">-70</text>
<text x="591.00" y="467.60" font-family='"Liberation Sans", sans-serif' font-size="11.93" font-weight="normal" fill="#2e2e2e" stroke="#2e2e2e" stroke-width="0.3" textLength="44.21" lengthAdjust="spacingAndGlyphs">Control</text>
<text x="591.41" y="493.50" font-family='"Liberation Sans", sans-serif' font-size="12.65" font-weight="normal" fill="#2e2e2e" stroke="#2e2e2e" stroke-width="0.3" textLength="82.27" lengthAdjust="spacingAndGlyphs">YM11 200 nM</text>
<text transform="translate(312.00,414.06) rotate(-90)" x="0" y="0" font-family='"Liberation Sans", sans-serif' font-size="15.70" font-weight="bold" fill="#111" textLength="45.55" lengthAdjust="spacingAndGlyphs">pA/pF</text>
<path d="M355.50,249.80 C361.17,250.83 378.15,251.38 389.50,256.00 C400.85,260.62 412.23,254.87 423.60,277.50 C434.97,300.13 446.43,355.77 457.70,391.80 C468.97,427.83 480.05,485.28 491.20,493.70 C502.35,502.12 513.35,461.55 524.60,442.30 C535.85,423.05 547.38,399.07 558.70,378.20 C570.02,357.33 581.18,334.47 592.50,317.10 C603.82,299.73 615.22,284.82 626.60,274.00 C637.98,263.18 655.10,255.83 660.80,252.20" fill="none" stroke="#363636" stroke-width="1.4"/>
<path d="M355.50,254.00 C361.17,254.55 378.15,254.70 389.50,257.30 C400.85,259.90 412.23,257.85 423.60,269.60 C434.97,281.35 446.43,308.55 457.70,327.80 C468.97,347.05 480.05,378.35 491.20,385.10 C502.35,391.85 513.35,377.62 524.60,368.30 C535.85,358.98 547.38,343.15 558.70,329.20 C570.02,315.25 581.18,296.05 592.50,284.60 C603.82,273.15 615.22,265.07 626.60,260.50 C637.98,255.93 655.10,257.75 660.80,257.20" fill="none" stroke="#363636" stroke-width="1.4"/>
<line x1="389.50" y1="256.00" x2="389.50" y2="260.50" stroke="#363636" stroke-width="1.2" />
<line x1="386.50" y1="260.50" x2="392.50" y2="260.50" stroke="#363636" stroke-width="1.2" />
<line x1="423.60" y1="277.50" x2="423.60" y2="284.70" stroke="#363636" stroke-width="1.2" />
<line x1="420.60" y1="284.70" x2="426.60" y2="284.70" stroke="#363636" stroke-width="1.2" />
<line x1="457.70" y1="391.80" x2="457.70" y2="439.80" stroke="#363636" stroke-width="1.2" />
<line x1="454.70" y1="439.80" x2="460.70" y2="439.80" stroke="#363636" stroke-width="1.2" />
<line x1="491.20" y1="493.70" x2="491.20" y2="513.20" stroke="#363636" stroke-width="1.2" />
<line x1="488.20" y1="513.20" x2="494.20" y2="513.20" stroke="#363636" stroke-width="1.2" />
<line x1="524.60" y1="442.30" x2="524.60" y2="462.70" stroke="#363636" stroke-width="1.2" />
<line x1="521.60" y1="462.70" x2="527.60" y2="462.70" stroke="#363636" stroke-width="1.2" />
<line x1="558.70" y1="378.20" x2="558.70" y2="398.30" stroke="#363636" stroke-width="1.2" />
<line x1="555.70" y1="398.30" x2="561.70" y2="398.30" stroke="#363636" stroke-width="1.2" />
<line x1="592.50" y1="317.10" x2="592.50" y2="337.30" stroke="#363636" stroke-width="1.2" />
<line x1="589.50" y1="337.30" x2="595.50" y2="337.30" stroke="#363636" stroke-width="1.2" />
<line x1="626.60" y1="274.00" x2="626.60" y2="282.80" stroke="#363636" stroke-width="1.2" />
<line x1="623.60" y1="282.80" x2="629.60" y2="282.80" stroke="#363636" stroke-width="1.2" />
<line x1="389.50" y1="257.30" x2="389.50" y2="261.30" stroke="#363636" stroke-width="1.2" />
<line x1="386.50" y1="261.30" x2="392.50" y2="261.30" stroke="#363636" stroke-width="1.2" />
<line x1="457.70" y1="327.80" x2="457.70" y2="351.50" stroke="#363636" stroke-width="1.2" />
<line x1="454.70" y1="351.50" x2="460.70" y2="351.50" stroke="#363636" stroke-width="1.2" />
<line x1="491.20" y1="385.10" x2="491.20" y2="401.20" stroke="#363636" stroke-width="1.2" />
<line x1="488.20" y1="401.20" x2="494.20" y2="401.20" stroke="#363636" stroke-width="1.2" />
<line x1="524.60" y1="368.30" x2="524.60" y2="382.40" stroke="#363636" stroke-width="1.2" />
<line x1="521.60" y1="382.40" x2="527.60" y2="382.40" stroke="#363636" stroke-width="1.2" />
<line x1="558.70" y1="329.20" x2="558.70" y2="339.30" stroke="#363636" stroke-width="1.2" />
<line x1="555.70" y1="339.30" x2="561.70" y2="339.30" stroke="#363636" stroke-width="1.2" />
<line x1="592.50" y1="284.60" x2="592.50" y2="294.70" stroke="#363636" stroke-width="1.2" />
<line x1="589.50" y1="294.70" x2="595.50" y2="294.70" stroke="#363636" stroke-width="1.2" />
<line x1="626.60" y1="260.50" x2="626.60" y2="264.40" stroke="#363636" stroke-width="1.2" />
<line x1="623.60" y1="264.40" x2="629.60" y2="264.40" stroke="#363636" stroke-width="1.2" />
<line x1="660.80" y1="257.20" x2="660.80" y2="261.70" stroke="#363636" stroke-width="1.2" />
<line x1="657.80" y1="261.70" x2="663.80" y2="261.70" stroke="#363636" stroke-width="1.2" />
<path d="M355.50,246.50 L358.80,249.80 L355.50,253.10 L352.20,249.80 Z" fill="#fff" stroke="#7a7a7a" stroke-width="1.0"/>
<path d="M389.50,252.70 L392.80,256.00 L389.50,259.30 L386.20,256.00 Z" fill="#fff" stroke="#7a7a7a" stroke-width="1.0"/>
<path d="M423.60,274.20 L426.90,277.50 L423.60,280.80 L420.30,277.50 Z" fill="#fff" stroke="#7a7a7a" stroke-width="1.0"/>
<path d="M457.70,388.50 L461.00,391.80 L457.70,395.10 L454.40,391.80 Z" fill="#fff" stroke="#7a7a7a" stroke-width="1.0"/>
<path d="M491.20,490.40 L494.50,493.70 L491.20,497.00 L487.90,493.70 Z" fill="#fff" stroke="#7a7a7a" stroke-width="1.0"/>
<path d="M524.60,439.00 L527.90,442.30 L524.60,445.60 L521.30,442.30 Z" fill="#fff" stroke="#7a7a7a" stroke-width="1.0"/>
<path d="M558.70,374.90 L562.00,378.20 L558.70,381.50 L555.40,378.20 Z" fill="#fff" stroke="#7a7a7a" stroke-width="1.0"/>
<path d="M592.50,313.80 L595.80,317.10 L592.50,320.40 L589.20,317.10 Z" fill="#fff" stroke="#7a7a7a" stroke-width="1.0"/>
<path d="M626.60,270.70 L629.90,274.00 L626.60,277.30 L623.30,274.00 Z" fill="#fff" stroke="#7a7a7a" stroke-width="1.0"/>
<path d="M660.80,248.90 L664.10,252.20 L660.80,255.50 L657.50,252.20 Z" fill="#fff" stroke="#7a7a7a" stroke-width="1.0"/>
<path d="M355.50,250.80 L358.70,254.00 L355.50,257.20 L352.30,254.00 Z" fill="#000" stroke="#000" stroke-width="0.8"/>
<path d="M389.50,254.10 L392.70,257.30 L389.50,260.50 L386.30,257.30 Z" fill="#000" stroke="#000" stroke-width="0.8"/>
<path d="M423.60,266.40 L426.80,269.60 L423.60,272.80 L420.40,269.60 Z" fill="#000" stroke="#000" stroke-width="0.8"/>
<path d="M457.70,324.60 L460.90,327.80 L457.70,331.00 L454.50,327.80 Z" fill="#000" stroke="#000" stroke-width="0.8"/>
<path d="M491.20,381.90 L494.40,385.10 L491.20,388.30 L488.00,385.10 Z" fill="#000" stroke="#000" stroke-width="0.8"/>
<path d="M524.60,365.10 L527.80,368.30 L524.60,371.50 L521.40,368.30 Z" fill="#000" stroke="#000" stroke-width="0.8"/>
<path d="M558.70,326.00 L561.90,329.20 L558.70,332.40 L555.50,329.20 Z" fill="#000" stroke="#000" stroke-width="0.8"/>
<path d="M592.50,281.40 L595.70,284.60 L592.50,287.80 L589.30,284.60 Z" fill="#000" stroke="#000" stroke-width="0.8"/>
<path d="M626.60,257.30 L629.80,260.50 L626.60,263.70 L623.40,260.50 Z" fill="#000" stroke="#000" stroke-width="0.8"/>
<path d="M660.80,254.00 L664.00,257.20 L660.80,260.40 L657.60,257.20 Z" fill="#000" stroke="#000" stroke-width="0.8"/>
<line x1="559.60" y1="463.10" x2="588.00" y2="463.10" stroke="#363636" stroke-width="1.3" />
<path d="M573.70,459.80 L577.00,463.10 L573.70,466.40 L570.40,463.10 Z" fill="#fff" stroke="#7a7a7a" stroke-width="1.0"/>
<line x1="559.60" y1="489.10" x2="588.00" y2="489.10" stroke="#363636" stroke-width="1.3" />
<path d="M573.70,485.90 L576.90,489.10 L573.70,492.30 L570.50,489.10 Z" fill="#000" stroke="#000" stroke-width="0.8"/>
</svg>
</body></html>
